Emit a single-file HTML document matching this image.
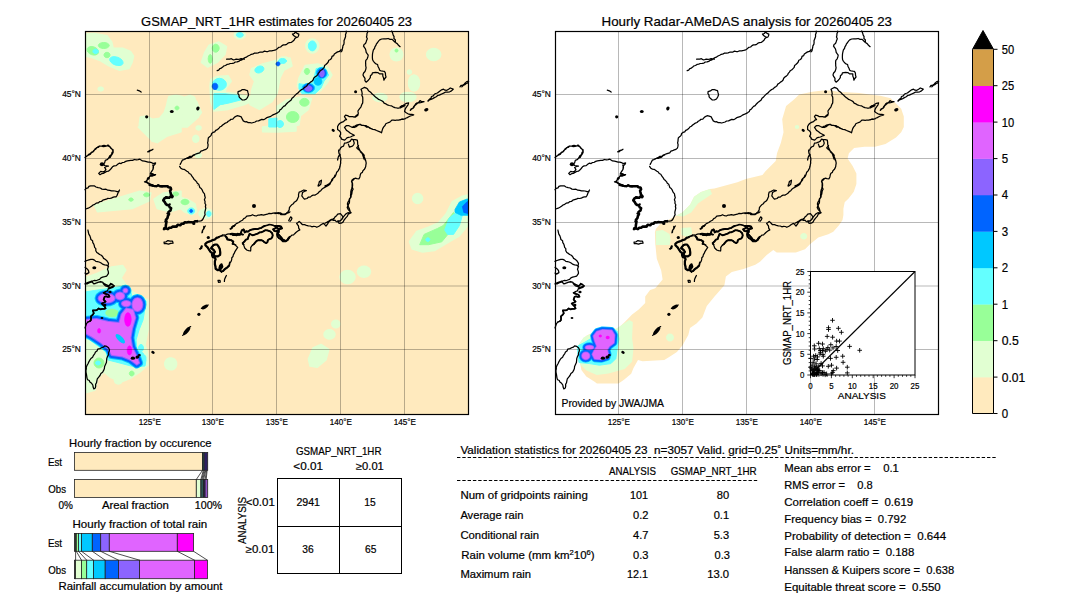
<!DOCTYPE html>
<html><head><meta charset="utf-8"><style>
html,body{margin:0;padding:0;background:#fff;width:1080px;height:612px;overflow:hidden;position:relative}
text{font-family:"Liberation Sans", sans-serif; stroke:#000; stroke-width:0.2px}
</style></head><body>
<svg width="1080" height="612" viewBox="0 0 1080 612" style="position:absolute;left:0;top:0" font-family='"Liberation Sans", sans-serif' fill="#000">
<rect width="1080" height="612" fill="#fff"/>
<text x="276.6" y="26.0" font-size="13.0" text-anchor="middle" textLength="271.0" lengthAdjust="spacingAndGlyphs">GSMAP_NRT_1HR estimates for 20260405 23</text>
<text x="746.8" y="26.0" font-size="13.0" text-anchor="middle" textLength="290.5" lengthAdjust="spacingAndGlyphs">Hourly Radar-AMeDAS analysis for 20260405 23</text>
<g>
<rect x="85.5" y="31.5" width="383.0" height="383.0" fill="#FFEABE"/>
<clipPath id="clip0"><rect x="85.5" y="31.5" width="383.0" height="383.0"/></clipPath>
<g clip-path="url(#clip0)">
<path d="M85.0,34.1 L94.4,33.4 L107.0,35.7 L111.7,42.0 L113.2,48.3 L122.6,48.3 L130.5,51.4 L133.6,56.1 L132.1,62.4 L128.9,68.6 L119.5,70.2 L108.5,65.5 L100.7,60.8 L92.8,57.7 L85.0,56.1Z M168.9,96.4 L175.8,95.3 L182.6,96.4 L184.9,102.2 L181.5,107.9 L181.5,114.7 L182.6,121.6 L180.3,128.5 L175.8,133.1 L166.6,135.3 L159.7,137.6 L156.3,142.2 L151.7,141.1 L149.5,134.2 L142.6,130.8 L139.2,125.0 L140.3,117.0 L146.0,115.9 L152.9,119.3 L159.7,118.2 L164.3,112.5 L166.6,105.6 L167.8,99.9Z M195.1,99.3 L194.8,100.6 L193.8,101.8 L192.3,102.5 L190.6,102.8 L188.9,102.5 L187.4,101.8 L186.4,100.6 L186.1,99.3 L186.4,98.0 L187.4,96.8 L188.9,96.1 L190.6,95.8 L192.3,96.1 L193.8,96.8 L194.8,98.0Z M198.8,115.9 L198.6,116.9 L197.9,117.7 L196.9,118.2 L195.8,118.4 L194.7,118.2 L193.7,117.7 L193.0,116.9 L192.8,115.9 L193.0,114.9 L193.7,114.1 L194.7,113.6 L195.8,113.4 L196.9,113.6 L197.9,114.1 L198.6,114.9Z M201.1,127.9 L200.9,128.7 L200.4,129.3 L199.6,129.7 L198.6,129.9 L197.6,129.7 L196.8,129.3 L196.3,128.7 L196.1,127.9 L196.3,127.1 L196.8,126.5 L197.6,126.1 L198.6,125.9 L199.6,126.1 L200.4,126.5 L200.9,127.1Z M198.8,138.8 L198.6,140.1 L197.9,141.3 L196.9,142.0 L195.8,142.3 L194.7,142.0 L193.7,141.3 L193.0,140.1 L192.8,138.8 L193.0,137.5 L193.7,136.3 L194.7,135.6 L195.8,135.3 L196.9,135.6 L197.9,136.3 L198.6,137.5Z M103.2,89.0 L103.0,89.7 L102.5,90.3 L101.7,90.7 L100.7,90.8 L99.7,90.7 L98.9,90.3 L98.4,89.7 L98.2,89.0 L98.4,88.3 L98.9,87.7 L99.7,87.3 L100.7,87.2 L101.7,87.3 L102.5,87.7 L103.0,88.3Z M181.0,98.5 L190.4,95.3 L196.7,101.6 L201.4,112.6 L196.7,118.8 L187.3,127.0 L181.0,127.0Z M209.2,45.1 L218.6,42.0 L226.5,46.7 L224.9,54.5 L217.1,62.4 L207.7,67.1 L201.4,62.4 L204.5,53.0Z M245.3,34.9 L244.9,36.4 L243.7,37.7 L241.9,38.6 L239.8,38.9 L237.7,38.6 L235.9,37.7 L234.7,36.4 L234.3,34.9 L234.7,33.4 L235.9,32.1 L237.7,31.2 L239.8,30.9 L241.9,31.2 L243.7,32.1 L244.9,33.4Z M210.8,79.6 L217.1,76.5 L228.1,75.7 L231.2,81.2 L226.5,87.5 L224.9,92.2 L235.9,93.7 L250.0,96.9 L251.6,101.6 L243.7,104.7 L228.1,109.4 L213.9,111.0 L210.8,101.6 L210.0,85.9Z M251.6,68.6 L262.6,63.9 L275.1,60.8 L277.0,60.0 L290.0,58.0 L292.0,66.0 L284.0,70.0 L280.0,78.0 L277.0,93.7 L272.0,101.6 L259.4,109.4 L250.0,104.7 L251.6,90.6 L254.7,81.2 L250.0,74.9Z M318.8,45.9 L318.3,48.6 L316.9,50.8 L314.8,52.4 L312.3,52.9 L309.8,52.4 L307.7,50.8 L306.3,48.6 L305.8,45.9 L306.3,43.2 L307.7,41.0 L309.8,39.4 L312.3,38.9 L314.8,39.4 L316.9,41.0 L318.3,43.2Z M291.0,62.4 L290.5,64.5 L288.9,66.3 L286.7,67.5 L284.0,67.9 L281.3,67.5 L279.1,66.3 L277.5,64.5 L277.0,62.4 L277.5,60.3 L279.1,58.5 L281.3,57.3 L284.0,56.9 L286.7,57.3 L288.9,58.5 L290.5,60.3Z M299.0,78.0 L305.2,65.5 L317.8,64.0 L327.2,67.0 L331.9,75.0 L327.2,82.8 L320.9,90.6 L314.6,93.7 L302.0,93.7 L297.4,86.0Z M277.0,106.3 L286.4,100.0 L300.5,96.9 L311.5,98.5 L308.4,109.4 L300.5,115.7 L299.0,125.0 L286.4,127.0 L277.0,127.0Z M262.6,127.0 L277.0,125.0 L296.0,126.0 L296.0,131.0 L277.0,132.0 L262.6,131.7Z M402.8,54.5 L402.3,56.9 L401.0,59.0 L398.9,60.3 L396.5,60.8 L394.1,60.3 L392.0,59.0 L390.7,56.9 L390.2,54.5 L390.7,52.1 L392.0,50.0 L394.1,48.7 L396.5,48.2 L398.9,48.7 L401.0,50.0 L402.3,52.1Z M440.7,54.5 L440.2,56.8 L438.6,58.7 L436.4,60.0 L433.7,60.5 L431.0,60.0 L428.8,58.7 L427.2,56.8 L426.7,54.5 L427.2,52.2 L428.8,50.3 L431.0,49.0 L433.7,48.5 L436.4,49.0 L438.6,50.3 L440.2,52.2Z M411.4,72.1 L411.2,72.9 L410.8,73.5 L410.2,73.9 L409.4,74.1 L408.6,73.9 L408.0,73.5 L407.6,72.9 L407.4,72.1 L407.6,71.3 L408.0,70.7 L408.6,70.3 L409.4,70.1 L410.2,70.3 L410.8,70.7 L411.2,71.3Z M419.5,83.0 L419.1,86.1 L417.9,88.7 L416.1,90.4 L414.0,91.0 L411.9,90.4 L410.1,88.7 L408.9,86.1 L408.5,83.0 L408.9,79.9 L410.1,77.3 L411.9,75.6 L414.0,75.0 L416.1,75.6 L417.9,77.3 L419.1,79.9Z M416.0,97.0 L415.4,98.7 L413.7,100.2 L411.1,101.2 L408.0,101.5 L404.9,101.2 L402.3,100.2 L400.6,98.7 L400.0,97.0 L400.6,95.3 L402.3,93.8 L404.9,92.8 L408.0,92.5 L411.1,92.8 L413.7,93.8 L415.4,95.3Z M387.0,97.5 L386.5,99.0 L384.9,100.3 L382.7,101.2 L380.0,101.5 L377.3,101.2 L375.1,100.3 L373.5,99.0 L373.0,97.5 L373.5,96.0 L375.1,94.7 L377.3,93.8 L380.0,93.5 L382.7,93.8 L384.9,94.7 L386.5,96.0Z M138.3,127.0 L181.0,127.0 L181.0,131.7 L166.6,136.4 L157.2,142.7 L150.9,139.5 L141.5,130.1Z M94.4,205.4 L108.5,200.7 L124.2,196.0 L139.9,191.3 L150.9,192.9 L149.3,200.7 L132.1,208.6 L116.4,210.1 L97.5,211.7Z M154.0,199.2 L163.4,192.9 L181.0,191.3 L181.0,208.6 L169.7,211.7 L157.2,208.6Z M198.2,139.0 L198.0,140.2 L197.4,141.2 L196.5,141.9 L195.5,142.1 L194.5,141.9 L193.6,141.2 L193.0,140.2 L192.8,139.0 L193.0,137.8 L193.6,136.8 L194.5,136.1 L195.5,135.9 L196.5,136.1 L197.4,136.8 L198.0,137.8Z M201.3,155.2 L201.1,156.1 L200.4,156.9 L199.4,157.4 L198.3,157.6 L197.2,157.4 L196.2,156.9 L195.5,156.1 L195.3,155.2 L195.5,154.3 L196.2,153.5 L197.2,153.0 L198.3,152.8 L199.4,153.0 L200.4,153.5 L201.1,154.3Z M181.0,197.6 L187.3,199.2 L195.1,203.9 L196.7,211.7 L192.0,214.8 L184.1,211.7 L181.0,208.6Z M213.0,213.5 L212.5,215.3 L210.9,216.8 L208.7,217.8 L206.0,218.2 L203.3,217.8 L201.1,216.8 L199.5,215.3 L199.0,213.5 L199.5,211.7 L201.1,210.2 L203.3,209.2 L206.0,208.8 L208.7,209.2 L210.9,210.2 L212.5,211.7Z M422.6,198.5 L422.2,200.4 L421.1,202.0 L419.5,203.1 L417.6,203.5 L415.7,203.1 L414.1,202.0 L413.0,200.4 L412.6,198.5 L413.0,196.6 L414.1,195.0 L415.7,193.9 L417.6,193.5 L419.5,193.9 L421.1,195.0 L422.2,196.6Z M409.4,241.8 L416.8,231.5 L428.5,227.1 L438.8,222.6 L446.2,213.8 L452.1,202.0 L462.4,196.2 L469.0,194.7 L469.0,224.1 L459.4,235.9 L449.1,241.8 L434.4,250.6 L422.6,252.1 L412.4,249.1Z M355.0,277.0 L354.4,279.5 L352.8,281.6 L350.4,283.0 L347.5,283.5 L344.6,283.0 L342.2,281.6 L340.6,279.5 L340.0,277.0 L340.6,274.5 L342.2,272.4 L344.6,271.0 L347.5,270.5 L350.4,271.0 L352.8,272.4 L354.4,274.5Z M370.5,271.7 L370.0,273.8 L368.6,275.6 L366.5,276.8 L364.0,277.2 L361.5,276.8 L359.4,275.6 L358.0,273.8 L357.5,271.7 L358.0,269.6 L359.4,267.8 L361.5,266.6 L364.0,266.2 L366.5,266.6 L368.6,267.8 L370.0,269.6Z M339.8,324.0 L339.5,325.5 L338.6,326.7 L337.3,327.5 L335.8,327.8 L334.3,327.5 L333.0,326.7 L332.1,325.5 L331.8,324.0 L332.1,322.5 L333.0,321.3 L334.3,320.5 L335.8,320.2 L337.3,320.5 L338.6,321.3 L339.5,322.5Z M335.0,334.4 L334.6,336.2 L333.4,337.7 L331.6,338.7 L329.5,339.1 L327.4,338.7 L325.6,337.7 L324.4,336.2 L324.0,334.4 L324.4,332.6 L325.6,331.1 L327.4,330.1 L329.5,329.7 L331.6,330.1 L333.4,331.1 L334.6,332.6Z M308.4,359.0 L313.0,348.0 L321.0,344.5 L328.8,349.5 L326.0,360.0 L317.0,367.3 L310.0,366.0Z M85.0,277.9 L97.5,273.2 L111.7,266.9 L122.6,265.4 L125.8,270.1 L121.1,277.9 L125.8,284.2 L130.5,290.5 L139.9,296.0 L148.0,300.0 L148.0,330.0 L145.0,345.0 L147.5,352.5 L148.0,365.0 L140.0,372.0 L131.0,378.0 L121.0,382.0 L110.0,377.0 L104.0,372.0 L98.0,378.0 L95.0,390.0 L85.0,393.0Z M122.2,380.0 L121.9,381.5 L121.1,382.8 L119.8,383.6 L118.3,383.9 L116.8,383.6 L115.5,382.8 L114.7,381.5 L114.4,380.0 L114.7,378.5 L115.5,377.2 L116.8,376.4 L118.3,376.1 L119.8,376.4 L121.1,377.2 L121.9,378.5Z M175.9,366.9 L174.4,368.7 L172.3,369.7 L169.9,369.8 L167.7,369.1 L165.9,367.6 L164.9,365.5 L164.8,363.1 L165.5,360.9 L167.0,359.1 L169.1,358.1 L171.5,358.0 L173.7,358.7 L175.5,360.2 L176.5,362.3 L176.6,364.7Z" fill="#E1FFD2" stroke="#E1FFD2" stroke-width="1.5" stroke-linejoin="round"/>
<path d="M109.3,45.5 L108.9,46.6 L107.7,47.6 L105.9,48.3 L103.8,48.5 L101.7,48.3 L99.9,47.6 L98.7,46.6 L98.3,45.5 L98.7,44.4 L99.9,43.4 L101.7,42.7 L103.8,42.5 L105.9,42.7 L107.7,43.4 L108.9,44.4Z M98.4,52.9 L97.5,54.1 L95.8,54.9 L93.7,55.1 L91.4,54.6 L89.4,53.5 L87.8,52.0 L87.1,50.3 L87.2,48.7 L88.1,47.5 L89.8,46.7 L91.9,46.5 L94.2,47.0 L96.2,48.1 L97.8,49.6 L98.5,51.3Z M110.0,55.0 L109.8,56.0 L109.1,56.9 L108.1,57.5 L107.0,57.7 L105.9,57.5 L104.9,56.9 L104.2,56.0 L104.0,55.0 L104.2,54.0 L104.9,53.1 L105.9,52.5 L107.0,52.3 L108.1,52.5 L109.1,53.1 L109.8,54.0Z M179.0,108.0 L178.8,108.7 L178.4,109.3 L177.8,109.7 L177.0,109.8 L176.2,109.7 L175.6,109.3 L175.2,108.7 L175.0,108.0 L175.2,107.3 L175.6,106.7 L176.2,106.3 L177.0,106.2 L177.8,106.3 L178.4,106.7 L178.8,107.3Z M219.2,48.2 L218.9,49.7 L218.2,51.0 L217.0,51.9 L215.7,52.2 L214.4,51.9 L213.2,51.0 L212.5,49.7 L212.2,48.2 L212.5,46.7 L213.2,45.4 L214.4,44.5 L215.7,44.2 L217.0,44.5 L218.2,45.4 L218.9,46.7Z M212.2,58.9 L212.0,60.5 L211.6,61.9 L211.0,62.9 L210.2,63.2 L209.4,62.9 L208.8,61.9 L208.4,60.5 L208.2,58.9 L208.4,57.3 L208.8,55.9 L209.4,54.9 L210.2,54.6 L211.0,54.9 L211.6,55.9 L212.0,57.3Z M226.0,101.0 L225.7,102.1 L224.8,103.1 L223.5,103.8 L222.0,104.0 L220.5,103.8 L219.2,103.1 L218.3,102.1 L218.0,101.0 L218.3,99.9 L219.2,98.9 L220.5,98.2 L222.0,98.0 L223.5,98.2 L224.8,98.9 L225.7,99.9Z M309.7,71.4 L309.5,72.5 L308.9,73.5 L308.0,74.2 L307.0,74.4 L306.0,74.2 L305.1,73.5 L304.5,72.5 L304.3,71.4 L304.5,70.3 L305.1,69.3 L306.0,68.6 L307.0,68.4 L308.0,68.6 L308.9,69.3 L309.5,70.3Z M309.1,102.3 L308.7,103.8 L307.7,105.1 L306.2,105.9 L304.4,106.2 L302.6,105.9 L301.1,105.1 L300.1,103.8 L299.7,102.3 L300.1,100.8 L301.1,99.5 L302.6,98.7 L304.4,98.4 L306.2,98.7 L307.7,99.5 L308.7,100.8Z M299.0,117.0 L298.5,119.1 L297.2,120.9 L295.1,122.1 L292.7,122.5 L290.3,122.1 L288.2,120.9 L286.9,119.1 L286.4,117.0 L286.9,114.9 L288.2,113.1 L290.3,111.9 L292.7,111.5 L295.1,111.9 L297.2,113.1 L298.5,114.9Z M398.0,50.6 L397.9,51.2 L397.6,51.7 L397.1,52.0 L396.5,52.1 L395.9,52.0 L395.4,51.7 L395.1,51.2 L395.0,50.6 L395.1,50.0 L395.4,49.5 L395.9,49.2 L396.5,49.1 L397.1,49.2 L397.6,49.5 L397.9,50.0Z M149.6,194.8 L149.4,195.6 L148.7,196.2 L147.7,196.6 L146.6,196.8 L145.5,196.6 L144.5,196.2 L143.8,195.6 L143.6,194.8 L143.8,194.0 L144.5,193.4 L145.5,193.0 L146.6,192.8 L147.7,193.0 L148.7,193.4 L149.4,194.0Z M133.3,199.6 L133.1,200.2 L132.6,200.7 L131.9,201.1 L131.0,201.2 L130.1,201.1 L129.4,200.7 L128.9,200.2 L128.7,199.6 L128.9,199.0 L129.4,198.5 L130.1,198.1 L131.0,198.0 L131.9,198.1 L132.6,198.5 L133.1,199.0Z M178.8,194.0 L178.6,194.8 L177.9,195.4 L176.9,195.8 L175.8,196.0 L174.7,195.8 L173.7,195.4 L173.0,194.8 L172.8,194.0 L173.0,193.2 L173.7,192.6 L174.7,192.2 L175.8,192.0 L176.9,192.2 L177.9,192.6 L178.6,193.2Z M189.0,202.0 L188.7,203.0 L187.8,203.9 L186.5,204.5 L185.0,204.7 L183.5,204.5 L182.2,203.9 L181.3,203.0 L181.0,202.0 L181.3,201.0 L182.2,200.1 L183.5,199.5 L185.0,199.3 L186.5,199.5 L187.8,200.1 L188.7,201.0Z M419.7,244.7 L424.1,234.4 L437.4,228.5 L443.2,225.6 L449.1,218.2 L453.5,212.4 L456.5,215.3 L449.1,232.9 L441.8,241.8 L428.5,244.7Z M134.1,373.5 L133.9,374.4 L133.4,375.2 L132.6,375.7 L131.7,375.9 L130.8,375.7 L130.0,375.2 L129.5,374.4 L129.3,373.5 L129.5,372.6 L130.0,371.8 L130.8,371.3 L131.7,371.1 L132.6,371.3 L133.4,371.8 L133.9,372.6Z M104.0,363.0 L103.6,364.9 L102.5,366.5 L100.9,367.6 L99.0,368.0 L97.1,367.6 L95.5,366.5 L94.4,364.9 L94.0,363.0 L94.4,361.1 L95.5,359.5 L97.1,358.4 L99.0,358.0 L100.9,358.4 L102.5,359.5 L103.6,361.1Z M119.0,313.0 L118.5,314.5 L116.9,315.8 L114.7,316.7 L112.0,317.0 L109.3,316.7 L107.1,315.8 L105.5,314.5 L105.0,313.0 L105.5,311.5 L107.1,310.2 L109.3,309.3 L112.0,309.0 L114.7,309.3 L116.9,310.2 L118.5,311.5Z M117.0,316.0 L116.5,317.5 L115.2,318.8 L113.1,319.7 L110.7,320.0 L108.3,319.7 L106.2,318.8 L104.9,317.5 L104.4,316.0 L104.9,314.5 L106.2,313.2 L108.3,312.3 L110.7,312.0 L113.1,312.3 L115.2,313.2 L116.5,314.5Z" fill="#98FF98" stroke="#98FF98" stroke-width="1.0" stroke-linejoin="round"/>
<path d="M123.0,63.5 L122.0,64.8 L120.1,65.5 L117.7,65.5 L115.0,64.9 L112.6,63.7 L110.8,62.1 L109.8,60.3 L109.8,58.7 L110.8,57.4 L112.7,56.7 L115.1,56.7 L117.8,57.3 L120.2,58.5 L122.0,60.1 L123.0,61.9Z M98.3,51.4 L98.1,52.3 L97.5,53.0 L96.6,53.5 L95.6,53.7 L94.6,53.5 L93.7,53.0 L93.1,52.3 L92.9,51.4 L93.1,50.5 L93.7,49.8 L94.6,49.3 L95.6,49.1 L96.6,49.3 L97.5,49.8 L98.1,50.5Z M243.3,34.9 L243.0,35.8 L242.3,36.6 L241.1,37.1 L239.8,37.3 L238.5,37.1 L237.3,36.6 L236.6,35.8 L236.3,34.9 L236.6,34.0 L237.3,33.2 L238.5,32.7 L239.8,32.5 L241.1,32.7 L242.3,33.2 L243.0,34.0Z M316.3,45.9 L316.0,47.8 L315.1,49.4 L313.8,50.5 L312.3,50.9 L310.8,50.5 L309.5,49.4 L308.6,47.8 L308.3,45.9 L308.6,44.0 L309.5,42.4 L310.8,41.3 L312.3,40.9 L313.8,41.3 L315.1,42.4 L316.0,44.0Z M286.5,61.0 L286.2,62.0 L285.3,62.8 L284.0,63.3 L282.5,63.5 L281.0,63.3 L279.7,62.8 L278.8,62.0 L278.5,61.0 L278.8,60.0 L279.7,59.2 L281.0,58.7 L282.5,58.5 L284.0,58.7 L285.3,59.2 L286.2,60.0Z M213.9,93.7 L224.9,93.7 L237.5,95.3 L240.6,100.0 L228.1,103.2 L220.2,104.7 L213.9,109.4Z M226.4,84.3 L225.9,86.6 L224.3,88.5 L222.1,89.8 L219.4,90.3 L216.7,89.8 L214.5,88.5 L212.9,86.6 L212.4,84.3 L212.9,82.0 L214.5,80.1 L216.7,78.8 L219.4,78.3 L222.1,78.8 L224.3,80.1 L225.9,82.0Z M263.8,67.9 L263.9,69.2 L263.3,70.6 L262.1,71.7 L260.5,72.6 L258.8,73.0 L257.1,72.8 L255.8,72.2 L255.0,71.1 L254.9,69.8 L255.5,68.4 L256.7,67.3 L258.3,66.4 L260.0,66.0 L261.7,66.2 L263.0,66.8Z M268.8,118.8 L277.0,118.0 L277.0,127.0 L268.8,127.0Z M283.5,124.0 L283.2,125.3 L282.5,126.5 L281.3,127.2 L280.0,127.5 L278.7,127.2 L277.5,126.5 L276.8,125.3 L276.5,124.0 L276.8,122.7 L277.5,121.5 L278.7,120.8 L280.0,120.5 L281.3,120.8 L282.5,121.5 L283.2,122.7Z M194.7,211.0 L194.4,212.1 L193.7,213.1 L192.5,213.8 L191.2,214.0 L189.9,213.8 L188.7,213.1 L188.0,212.1 L187.7,211.0 L188.0,209.9 L188.7,208.9 L189.9,208.2 L191.2,208.0 L192.5,208.2 L193.7,208.9 L194.4,209.9Z M211.1,213.8 L210.9,214.8 L210.4,215.7 L209.7,216.3 L208.8,216.5 L207.9,216.3 L207.2,215.7 L206.7,214.8 L206.5,213.8 L206.7,212.8 L207.2,211.9 L207.9,211.3 L208.8,211.1 L209.7,211.3 L210.4,211.9 L210.9,212.8Z M299.0,83.7 L308.4,85.2 L313.0,82.0 L316.2,68.6 L323.3,67.0 L328.8,75.0 L324.0,81.2 L321.0,88.0 L315.0,93.7 L302.0,93.7 L299.0,88.9Z M444.7,230.0 L449.1,218.2 L456.5,212.4 L462.4,215.3 L459.4,225.6 L453.5,234.4 L447.6,234.4Z M429.8,239.6 L429.6,240.3 L429.2,240.9 L428.6,241.3 L427.8,241.4 L427.0,241.3 L426.4,240.9 L426.0,240.3 L425.8,239.6 L426.0,238.9 L426.4,238.3 L427.0,237.9 L427.8,237.8 L428.6,237.9 L429.2,238.3 L429.6,238.9Z M85.0,292.0 L94.4,290.5 L105.4,288.9 L116.4,287.3 L124.2,285.7 L130.5,290.5 L132.1,296.7 L139.9,298.3 L146.2,301.4 L144.6,310.8 L143.0,320.0 L139.0,330.0 L136.0,340.0 L137.0,350.0 L143.0,353.0 L146.0,360.0 L145.0,366.0 L139.0,366.5 L131.0,366.0 L116.0,362.0 L108.0,360.0 L106.0,352.0 L98.0,346.0 L90.0,340.0 L85.0,338.0Z M143.5,348.0 L143.3,349.3 L142.8,350.5 L142.0,351.2 L141.0,351.5 L140.0,351.2 L139.2,350.5 L138.7,349.3 L138.5,348.0 L138.7,346.7 L139.2,345.5 L140.0,344.8 L141.0,344.5 L142.0,344.8 L142.8,345.5 L143.3,346.7Z M146.0,358.0 L145.8,359.1 L145.4,360.1 L144.8,360.8 L144.0,361.0 L143.2,360.8 L142.6,360.1 L142.2,359.1 L142.0,358.0 L142.2,356.9 L142.6,355.9 L143.2,355.2 L144.0,355.0 L144.8,355.2 L145.4,355.9 L145.8,356.9Z M100.5,363.0 L100.3,363.8 L99.8,364.4 L99.0,364.8 L98.0,365.0 L97.0,364.8 L96.2,364.4 L95.7,363.8 L95.5,363.0 L95.7,362.2 L96.2,361.6 L97.0,361.2 L98.0,361.0 L99.0,361.2 L99.8,361.6 L100.3,362.2Z" fill="#64FFFF" stroke="#64FFFF" stroke-width="1.0" stroke-linejoin="round"/>
<path d="M118.5,313.0 L118.0,314.5 L116.6,315.8 L114.5,316.7 L112.0,317.0 L109.5,316.7 L107.4,315.8 L106.0,314.5 L105.5,313.0 L106.0,311.5 L107.4,310.2 L109.5,309.3 L112.0,309.0 L114.5,309.3 L116.6,310.2 L118.0,311.5Z" fill="#98FF98" stroke="#98FF98" stroke-width="0.5" stroke-linejoin="round"/>
<path d="M314.7,88.0 L314.2,89.8 L312.9,91.3 L310.8,92.3 L308.4,92.7 L306.0,92.3 L303.9,91.3 L302.6,89.8 L302.1,88.0 L302.6,86.2 L303.9,84.7 L306.0,83.7 L308.4,83.3 L310.8,83.7 L312.9,84.7 L314.2,86.2Z M327.2,73.0 L326.8,75.1 L325.6,76.9 L323.8,78.1 L321.7,78.5 L319.6,78.1 L317.8,76.9 L316.6,75.1 L316.2,73.0 L316.6,70.9 L317.8,69.1 L319.6,67.9 L321.7,67.5 L323.8,67.9 L325.6,69.1 L326.8,70.9Z M321.9,81.4 L321.6,82.9 L320.8,84.2 L319.5,85.0 L318.0,85.3 L316.5,85.0 L315.2,84.2 L314.4,82.9 L314.1,81.4 L314.4,79.9 L315.2,78.6 L316.5,77.8 L318.0,77.5 L319.5,77.8 L320.8,78.6 L321.6,79.9Z M455.0,209.4 L459.4,202.0 L466.8,199.1 L469.0,199.0 L469.0,215.3 L460.9,215.3 L455.0,212.4Z" fill="#00C8FF" stroke="#00C8FF" stroke-width="0.8" stroke-linejoin="round"/>
<path d="M217.8,86.4 L217.6,87.6 L217.0,88.7 L216.1,89.4 L215.0,89.6 L213.9,89.4 L213.0,88.7 L212.4,87.6 L212.2,86.4 L212.4,85.2 L213.0,84.1 L213.9,83.4 L215.0,83.2 L216.1,83.4 L217.0,84.1 L217.6,85.2Z M280.0,63.9 L279.8,64.7 L279.4,65.3 L278.8,65.7 L278.0,65.9 L277.2,65.7 L276.6,65.3 L276.2,64.7 L276.0,63.9 L276.2,63.1 L276.6,62.5 L277.2,62.1 L278.0,61.9 L278.8,62.1 L279.4,62.5 L279.8,63.1Z M313.4,88.0 L313.0,89.5 L311.9,90.7 L310.3,91.5 L308.4,91.8 L306.5,91.5 L304.9,90.7 L303.8,89.5 L303.4,88.0 L303.8,86.5 L304.9,85.3 L306.5,84.5 L308.4,84.2 L310.3,84.5 L311.9,85.3 L313.0,86.5Z M326.0,73.2 L325.7,74.9 L324.8,76.4 L323.4,77.4 L321.8,77.7 L320.2,77.4 L318.8,76.4 L317.9,74.9 L317.6,73.2 L317.9,71.5 L318.8,70.0 L320.2,69.0 L321.8,68.7 L323.4,69.0 L324.8,70.0 L325.7,71.5Z M462.4,206.5 L466.8,202.0 L469.0,201.0 L469.0,213.8 L463.8,212.4Z M192.7,211.0 L192.6,211.6 L192.3,212.1 L191.8,212.4 L191.2,212.5 L190.6,212.4 L190.1,212.1 L189.8,211.6 L189.7,211.0 L189.8,210.4 L190.1,209.9 L190.6,209.6 L191.2,209.5 L191.8,209.6 L192.3,209.9 L192.6,210.4Z" fill="#0064FF" stroke="#0064FF" stroke-width="0.8" stroke-linejoin="round"/>
<path d="M312.3,88.5 L312.0,89.6 L311.2,90.6 L309.9,91.3 L308.4,91.5 L306.9,91.3 L305.6,90.6 L304.8,89.6 L304.5,88.5 L304.8,87.4 L305.6,86.4 L306.9,85.7 L308.4,85.5 L309.9,85.7 L311.2,86.4 L312.0,87.4Z M324.6,73.3 L324.4,74.8 L323.8,76.1 L322.9,76.9 L321.9,77.2 L320.9,76.9 L320.0,76.1 L319.4,74.8 L319.2,73.3 L319.4,71.8 L320.0,70.5 L320.9,69.7 L321.9,69.4 L322.9,69.7 L323.8,70.5 L324.4,71.8Z" fill="#8C64FF" stroke="#8C64FF" stroke-width="0.3" stroke-linejoin="round"/>
<path d="M114.6,298.3 L114.0,299.9 L112.3,301.3 L109.7,302.3 L106.6,302.6 L103.5,302.3 L100.9,301.3 L99.2,299.9 L98.6,298.3 L99.2,296.7 L100.9,295.3 L103.5,294.3 L106.6,294.0 L109.7,294.3 L112.3,295.3 L114.0,296.7Z M124.2,296.0 L123.9,297.3 L123.0,298.4 L121.6,299.1 L120.0,299.4 L118.4,299.1 L117.0,298.4 L116.1,297.3 L115.8,296.0 L116.1,294.7 L117.0,293.6 L118.4,292.9 L120.0,292.6 L121.6,292.9 L123.0,293.6 L123.9,294.7Z M127.4,290.6 L127.2,291.3 L126.8,291.9 L126.2,292.3 L125.4,292.4 L124.6,292.3 L124.0,291.9 L123.6,291.3 L123.4,290.6 L123.6,289.9 L124.0,289.3 L124.6,288.9 L125.4,288.8 L126.2,288.9 L126.8,289.3 L127.2,289.9Z M130.4,303.6 L130.1,304.6 L129.2,305.4 L127.8,306.0 L126.2,306.2 L124.6,306.0 L123.2,305.4 L122.3,304.6 L122.0,303.6 L122.3,302.6 L123.2,301.8 L124.6,301.2 L126.2,301.0 L127.8,301.2 L129.2,301.8 L130.1,302.6Z M142.4,304.6 L142.0,307.1 L140.9,309.2 L139.3,310.6 L137.4,311.1 L135.5,310.6 L133.9,309.2 L132.8,307.1 L132.4,304.6 L132.8,302.1 L133.9,300.0 L135.5,298.6 L137.4,298.1 L139.3,298.6 L140.9,300.0 L142.0,302.1Z M85.0,320.0 L96.4,318.9 L107.9,321.7 L119.3,322.9 L121.6,314.3 L126.2,308.6 L133.0,309.7 L135.3,317.7 L132.1,328.4 L130.5,337.8 L132.1,347.2 L136.8,356.6 L139.1,362.9 L136.8,364.5 L130.5,359.8 L122.6,356.6 L111.7,355.1 L108.5,348.8 L100.7,342.5 L91.3,336.3 L85.0,333.1Z" fill="#00C8FF" stroke="#00C8FF" stroke-width="8.0" stroke-linejoin="round"/>
<path d="M114.6,298.3 L114.0,299.9 L112.3,301.3 L109.7,302.3 L106.6,302.6 L103.5,302.3 L100.9,301.3 L99.2,299.9 L98.6,298.3 L99.2,296.7 L100.9,295.3 L103.5,294.3 L106.6,294.0 L109.7,294.3 L112.3,295.3 L114.0,296.7Z M124.2,296.0 L123.9,297.3 L123.0,298.4 L121.6,299.1 L120.0,299.4 L118.4,299.1 L117.0,298.4 L116.1,297.3 L115.8,296.0 L116.1,294.7 L117.0,293.6 L118.4,292.9 L120.0,292.6 L121.6,292.9 L123.0,293.6 L123.9,294.7Z M127.4,290.6 L127.2,291.3 L126.8,291.9 L126.2,292.3 L125.4,292.4 L124.6,292.3 L124.0,291.9 L123.6,291.3 L123.4,290.6 L123.6,289.9 L124.0,289.3 L124.6,288.9 L125.4,288.8 L126.2,288.9 L126.8,289.3 L127.2,289.9Z M130.4,303.6 L130.1,304.6 L129.2,305.4 L127.8,306.0 L126.2,306.2 L124.6,306.0 L123.2,305.4 L122.3,304.6 L122.0,303.6 L122.3,302.6 L123.2,301.8 L124.6,301.2 L126.2,301.0 L127.8,301.2 L129.2,301.8 L130.1,302.6Z M142.4,304.6 L142.0,307.1 L140.9,309.2 L139.3,310.6 L137.4,311.1 L135.5,310.6 L133.9,309.2 L132.8,307.1 L132.4,304.6 L132.8,302.1 L133.9,300.0 L135.5,298.6 L137.4,298.1 L139.3,298.6 L140.9,300.0 L142.0,302.1Z M85.0,320.0 L96.4,318.9 L107.9,321.7 L119.3,322.9 L121.6,314.3 L126.2,308.6 L133.0,309.7 L135.3,317.7 L132.1,328.4 L130.5,337.8 L132.1,347.2 L136.8,356.6 L139.1,362.9 L136.8,364.5 L130.5,359.8 L122.6,356.6 L111.7,355.1 L108.5,348.8 L100.7,342.5 L91.3,336.3 L85.0,333.1Z" fill="#0064FF" stroke="#0064FF" stroke-width="6.0" stroke-linejoin="round"/>
<path d="M114.6,298.3 L114.0,299.9 L112.3,301.3 L109.7,302.3 L106.6,302.6 L103.5,302.3 L100.9,301.3 L99.2,299.9 L98.6,298.3 L99.2,296.7 L100.9,295.3 L103.5,294.3 L106.6,294.0 L109.7,294.3 L112.3,295.3 L114.0,296.7Z M124.2,296.0 L123.9,297.3 L123.0,298.4 L121.6,299.1 L120.0,299.4 L118.4,299.1 L117.0,298.4 L116.1,297.3 L115.8,296.0 L116.1,294.7 L117.0,293.6 L118.4,292.9 L120.0,292.6 L121.6,292.9 L123.0,293.6 L123.9,294.7Z M127.4,290.6 L127.2,291.3 L126.8,291.9 L126.2,292.3 L125.4,292.4 L124.6,292.3 L124.0,291.9 L123.6,291.3 L123.4,290.6 L123.6,289.9 L124.0,289.3 L124.6,288.9 L125.4,288.8 L126.2,288.9 L126.8,289.3 L127.2,289.9Z M130.4,303.6 L130.1,304.6 L129.2,305.4 L127.8,306.0 L126.2,306.2 L124.6,306.0 L123.2,305.4 L122.3,304.6 L122.0,303.6 L122.3,302.6 L123.2,301.8 L124.6,301.2 L126.2,301.0 L127.8,301.2 L129.2,301.8 L130.1,302.6Z M142.4,304.6 L142.0,307.1 L140.9,309.2 L139.3,310.6 L137.4,311.1 L135.5,310.6 L133.9,309.2 L132.8,307.1 L132.4,304.6 L132.8,302.1 L133.9,300.0 L135.5,298.6 L137.4,298.1 L139.3,298.6 L140.9,300.0 L142.0,302.1Z M85.0,320.0 L96.4,318.9 L107.9,321.7 L119.3,322.9 L121.6,314.3 L126.2,308.6 L133.0,309.7 L135.3,317.7 L132.1,328.4 L130.5,337.8 L132.1,347.2 L136.8,356.6 L139.1,362.9 L136.8,364.5 L130.5,359.8 L122.6,356.6 L111.7,355.1 L108.5,348.8 L100.7,342.5 L91.3,336.3 L85.0,333.1Z" fill="#8C64FF" stroke="#8C64FF" stroke-width="2.0" stroke-linejoin="round"/>
<path d="M114.6,298.3 L114.0,299.9 L112.3,301.3 L109.7,302.3 L106.6,302.6 L103.5,302.3 L100.9,301.3 L99.2,299.9 L98.6,298.3 L99.2,296.7 L100.9,295.3 L103.5,294.3 L106.6,294.0 L109.7,294.3 L112.3,295.3 L114.0,296.7Z M124.2,296.0 L123.9,297.3 L123.0,298.4 L121.6,299.1 L120.0,299.4 L118.4,299.1 L117.0,298.4 L116.1,297.3 L115.8,296.0 L116.1,294.7 L117.0,293.6 L118.4,292.9 L120.0,292.6 L121.6,292.9 L123.0,293.6 L123.9,294.7Z M127.4,290.6 L127.2,291.3 L126.8,291.9 L126.2,292.3 L125.4,292.4 L124.6,292.3 L124.0,291.9 L123.6,291.3 L123.4,290.6 L123.6,289.9 L124.0,289.3 L124.6,288.9 L125.4,288.8 L126.2,288.9 L126.8,289.3 L127.2,289.9Z M130.4,303.6 L130.1,304.6 L129.2,305.4 L127.8,306.0 L126.2,306.2 L124.6,306.0 L123.2,305.4 L122.3,304.6 L122.0,303.6 L122.3,302.6 L123.2,301.8 L124.6,301.2 L126.2,301.0 L127.8,301.2 L129.2,301.8 L130.1,302.6Z M142.4,304.6 L142.0,307.1 L140.9,309.2 L139.3,310.6 L137.4,311.1 L135.5,310.6 L133.9,309.2 L132.8,307.1 L132.4,304.6 L132.8,302.1 L133.9,300.0 L135.5,298.6 L137.4,298.1 L139.3,298.6 L140.9,300.0 L142.0,302.1Z M85.0,320.0 L96.4,318.9 L107.9,321.7 L119.3,322.9 L121.6,314.3 L126.2,308.6 L133.0,309.7 L135.3,317.7 L132.1,328.4 L130.5,337.8 L132.1,347.2 L136.8,356.6 L139.1,362.9 L136.8,364.5 L130.5,359.8 L122.6,356.6 L111.7,355.1 L108.5,348.8 L100.7,342.5 L91.3,336.3 L85.0,333.1Z" fill="#E064FF"/>
<path d="M131.3,319.5 L131.0,322.1 L130.3,324.4 L129.2,325.9 L127.9,326.4 L126.6,325.9 L125.5,324.4 L124.8,322.1 L124.5,319.5 L124.8,316.9 L125.5,314.6 L126.6,313.1 L127.9,312.6 L129.2,313.1 L130.3,314.6 L131.0,316.9Z M100.7,330.8 L100.6,331.7 L100.2,332.5 L99.7,333.0 L99.1,333.2 L98.5,333.0 L98.0,332.5 L97.6,331.7 L97.5,330.8 L97.6,329.9 L98.0,329.1 L98.5,328.6 L99.1,328.4 L99.7,328.6 L100.2,329.1 L100.6,329.9Z M131.9,350.4 L131.7,352.2 L131.2,353.7 L130.4,354.7 L129.5,355.1 L128.6,354.7 L127.8,353.7 L127.3,352.2 L127.1,350.4 L127.3,348.6 L127.8,347.1 L128.6,346.1 L129.5,345.7 L130.4,346.1 L131.2,347.1 L131.7,348.6Z" fill="#FF00FF" stroke="#FF00FF" stroke-width="0.5" stroke-linejoin="round"/>
<path d="M124.2,342.7 L123.4,342.9 L122.1,342.5 L120.5,341.5 L119.0,340.1 L117.6,338.6 L116.6,337.0 L116.2,335.7 L116.4,334.9 L117.2,334.7 L118.5,335.1 L120.1,336.1 L121.6,337.5 L123.0,339.0 L124.0,340.6 L124.4,341.9Z" fill="#00C8FF" stroke="#00C8FF" stroke-width="1.2" stroke-linejoin="round"/>
</g>
<path d="M149.5,31.5 V414.5 M85.5,94.5 H468.5 M212.5,31.5 V414.5 M85.5,158.5 H468.5 M276.5,31.5 V414.5 M85.5,222.5 H468.5 M340.5,31.5 V414.5 M85.5,286.0 H468.5 M404.5,31.5 V414.5 M85.5,349.5 H468.5" stroke="#000" stroke-opacity="0.28" stroke-width="1" fill="none"/>
<path d="M86.3,156.4 L88.2,155.2 L90.2,154.4 L91.3,152.8 L93.0,151.9 L94.2,150.5 L95.1,148.9 L96.8,147.9 L98.1,146.6 L100.0,146.1 L102.0,145.9 L104.0,145.4 L105.9,145.9 L107.9,145.9 L109.8,146.8 L111.1,148.5 L113.1,149.8 L113.1,152.5 L112.2,154.1 L111.1,155.7 L110.2,157.4 L108.5,158.3 L107.1,159.7 L105.3,160.3 L104.6,162.9 L103.3,164.2 L104.6,165.5 L106.6,165.8 L108.5,166.2 L106.5,166.5 L104.6,167.5 L105.9,169.4 L104.6,171.4 L102.6,171.8 L100.7,171.4 L98.7,173.4 L100.0,174.7 L101.6,173.7 L103.3,173.4 L105.0,172.5 L106.6,171.4 L108.4,171.2 L109.8,170.1 L111.2,168.5 L112.5,166.8 L114.1,165.9 L116.2,165.6 L117.7,164.2 L119.2,163.2 L121.1,163.6 L122.5,162.5 L124.2,162.3 L125.7,161.4 L127.4,160.9 L129.1,160.6 L130.8,160.3 L132.6,160.4 L134.4,159.5 L136.3,159.8 L138.1,159.6 L139.9,159.2 L142.5,160.9 L144.5,161.1 L146.4,161.6 L148.1,162.1 L149.8,162.1 L151.5,162.6 L153.0,163.6 L155.6,162.9 L154.9,164.4 L153.6,165.5 L153.1,167.5 L153.0,169.4 L151.7,171.4 L150.4,173.4 L152.2,173.6 L153.8,174.3 L155.6,174.7 L153.9,174.9 L152.1,175.3 L150.4,175.3 L149.4,176.8 L149.1,178.6 L147.6,179.7 L146.4,181.2 L144.5,181.9 L146.2,182.3 L147.7,183.2 L149.0,184.2 L150.4,185.1 L152.3,185.5 L154.3,185.8 L156.4,186.1 L158.2,185.1 L160.0,186.2 L162.1,186.4 L165.0,185.8 M85.0,189.7 L86.2,188.4 L88.0,187.9 L88.9,186.4 L90.6,185.8 L92.4,185.9 L94.2,185.8 L96.0,187.0 L98.1,187.7 L100.2,188.0 L102.0,189.1 L104.0,189.4 L106.0,189.2 L107.8,190.2 L109.8,190.4 L111.5,190.9 L113.3,190.9 L115.1,191.0 L117.0,191.7 L119.0,191.7 M147.7,151.8 L149.4,150.7 L151.3,150.2 L153.0,149.2 M85.0,157.5 L86.3,156.6 L87.6,155.5 L88.7,154.4 L90.3,153.6 L91.3,152.3 L93.0,151.7 L94.0,150.2 L95.6,149.3 L96.6,147.7 L98.4,147.3 L99.6,146.0 L101.5,146.2 L103.3,146.6 L105.1,146.4 L107.0,146.0 L108.0,145.0 L109.7,146.4 L111.1,148.1 L112.3,149.6 L113.2,151.3 L112.0,152.5 L111.6,154.4 L110.1,155.4 L109.1,157.2 L108.0,159.0 M185.4,159.0 L186.8,158.0 L188.4,157.2 L189.9,156.4 L191.8,156.4 L193.1,155.1 L194.7,154.5 L196.3,153.9 L197.9,153.4 L199.7,152.8 L200.9,151.2 L202.6,150.7 L204.2,149.9 L206.0,149.4 L207.4,148.1 L207.9,146.4 L208.1,144.7 L207.6,142.9 L208.0,141.1 L208.1,139.4 L208.4,137.7 L209.9,136.6 L211.1,135.4 L211.6,133.5 L213.0,132.4 M137.3,90.2 L139.3,90.8 L141.1,92.1 M148.8,151.9 L150.4,150.6 L152.3,149.8 M152.8,165.0 L153.5,167.6 L152.8,169.7 L151.5,171.5 L150.2,174.2 L152.0,174.4 L153.7,174.7 L155.5,174.8 L153.8,175.5 L152.1,176.2 L150.2,176.1 L149.0,177.2 L147.6,178.1 L147.1,179.8 L146.3,181.3 L147.6,182.4 L148.9,183.3 L151.5,184.6 L154.2,185.9 L156.4,186.0 L158.1,184.6 L159.9,185.6 L162.0,185.9 L163.7,185.9 L165.5,186.1 L167.2,185.9 L168.3,187.2 L170.4,187.5 L171.1,189.2 L170.1,190.7 L170.5,192.5 L171.0,194.6 L172.5,196.4 L170.6,196.4 L169.2,197.7 L166.8,197.5 L164.6,198.3 L163.3,200.3 L164.8,202.1 L165.9,204.2 L167.3,205.1 L169.0,205.6 L169.7,207.4 L171.1,208.1 L170.5,210.5 L168.5,212.1 L169.0,214.1 L167.9,216.0 L167.4,218.2 L165.9,219.9 L166.5,221.6 L166.2,223.4 L165.9,225.1 L165.7,227.5 L164.0,229.1 L165.9,228.2 L167.9,229.1 L169.3,227.8 L171.1,227.7 L172.7,226.6 L174.6,226.6 L176.4,226.4 L177.7,224.8 L180.2,225.3 L181.6,223.8 L183.4,223.6 L184.9,222.3 L186.8,222.5 L188.5,222.1 L190.1,222.2 L191.7,222.3 L193.4,222.5 L195.1,221.2 L197.3,221.2 L199.1,221.1 L200.9,220.9 L202.5,219.9 L203.4,218.1 L204.2,216.4 L205.1,214.7 L204.8,213.0 L205.0,211.4 L205.4,209.8 L205.8,208.1 L205.4,206.5 L205.8,204.8 L204.9,203.3 L205.1,201.6 L204.4,199.7 L205.3,197.6 L204.7,195.7 L204.5,193.8 L203.1,192.2 L202.3,190.2 L201.2,188.5 L199.8,187.5 L199.3,185.9 L198.7,184.3 L197.3,183.3 L196.6,181.8 L195.5,180.6 L194.1,179.5 L193.4,178.1 L191.9,176.2 L190.8,174.2 L189.2,173.5 L188.3,172.0 L186.9,171.2 L185.5,170.2 L184.1,169.3 L182.4,169.1 L180.9,168.3 L179.6,166.3 M203.8,226.4 L203.7,228.5 L202.6,230.3 L202.5,232.3 M164.0,242.1 L166.1,241.8 L167.9,240.6 L170.1,241.2 L172.5,241.1 L173.1,243.2 L170.7,243.4 L168.5,244.2 L166.5,243.6 L164.3,243.7 L164.0,242.1 M217.2,70.7 L218.7,70.1 L219.8,68.7 L221.4,68.1 L222.7,67.1 L223.9,65.9 L225.5,65.5 L227.0,64.4 L228.7,64.1 L230.3,63.5 L232.1,63.4 L233.9,63.1 L235.3,62.0 L237.1,61.9 L238.7,61.4 L240.2,60.3 L242.0,59.9 L243.3,58.6 L244.8,57.7 L246.5,57.1 L248.0,56.0 L249.7,55.2 L251.3,54.3 L253.2,53.9 L254.8,53.0 L256.5,53.2 L258.1,52.9 L259.7,52.2 L261.4,52.2 L263.0,52.1 L264.5,51.1 L266.2,51.5 L267.9,51.5 L269.5,50.9 L271.6,50.8 L273.7,50.4 L275.7,49.8 L277.3,48.8 L278.7,47.4 L280.6,47.0 L282.0,45.6 L283.4,44.9 L285.1,44.8 L286.7,44.3 L288.0,43.1 L289.4,42.6 L291.2,42.5 L292.5,41.5 L294.0,40.2 L295.0,38.4 L296.7,37.3 L295.0,36.6 L293.6,35.5 L292.5,34.1 L294.3,33.5 L295.6,32.0 L297.0,33.4 L298.8,34.1 L298.6,35.8 L297.7,37.3 M244.4,59.2 L242.8,58.9 L241.1,58.7 L239.5,59.1 L237.9,59.4 L236.3,59.2 L234.7,59.6 L233.1,59.8 L231.4,58.7 L229.8,59.1 L228.2,59.2 L226.6,59.2 M213.0,132.4 L214.7,131.8 L215.7,130.3 L217.4,129.6 L218.8,128.5 L219.8,127.0 L221.4,126.2 L222.6,125.0 L224.0,124.1 L225.4,123.1 L227.0,122.5 L228.2,121.3 L229.7,120.5 L230.9,119.3 L232.8,119.1 L233.9,117.8 L235.4,116.6 L237.1,115.7 L239.2,116.2 L241.2,116.8 L242.2,118.9 L243.3,120.9 L244.9,121.8 L246.7,121.7 L248.2,122.6 L250.0,122.6 L251.7,123.0 L253.4,122.5 L255.1,122.0 L256.6,121.0 L258.5,120.9 L260.1,120.1 L261.7,119.4 L263.7,119.7 L265.3,118.8 L266.7,117.7 L268.4,117.2 L270.1,116.7 L271.6,115.8 L273.0,114.8 L274.7,114.2 L276.3,113.4 L277.8,112.6 L279.3,111.6 L279.9,109.9 L281.5,109.0 L282.4,107.6 L283.6,106.4 L285.2,105.6 L286.2,104.2 L287.4,103.0 L288.6,101.9 L289.9,100.9 L291.2,99.9 L292.0,98.3 L293.3,97.3 L294.3,96.1 L295.5,94.9 L296.7,93.7 L298.1,92.9 L299.1,91.6 L300.4,90.6 L301.7,89.5 L303.2,88.9 L304.3,87.6 L305.7,86.7 L307.0,85.8 L307.8,84.1 L309.2,83.3 L310.5,82.1 L311.9,81.2 L313.1,80.0 L313.7,78.2 L314.9,77.0 L316.3,76.1 L317.6,74.9 L318.3,73.3 L319.4,72.1 L320.3,70.7 L321.9,69.8 L323.0,68.6 L324.2,67.4 L324.6,65.5 L325.9,64.5 L327.2,63.3 L328.2,62.0 L328.8,60.3 L330.5,59.5 L331.6,58.2 L332.0,56.4 L333.7,55.6 L334.3,54.0 L335.9,52.9 L337.6,51.9 L339.6,51.3 L341.0,49.8 M238.1,91.7 L240.4,90.9 L242.3,89.6 L244.1,89.5 L245.8,90.2 L247.5,90.6 L248.0,92.7 L248.6,94.8 L247.7,97.0 L246.5,99.0 L244.5,99.8 L242.3,100.0 L240.6,98.6 L239.1,96.9 L239.0,95.1 L237.9,93.5 L238.1,91.7 M180.2,164.4 L181.3,162.3 L182.3,160.2 L183.8,159.6 L185.2,158.7 L186.9,158.5 L188.6,158.3 L190.1,157.6 L191.7,157.1 L193.0,155.6 L194.8,155.0 M367.7,31.0 L367.7,32.0 L366.9,33.7 L366.9,35.4 L366.5,37.0 L367.3,38.8 L366.6,40.4 L366.1,42.0 L365.5,43.5 L364.0,44.6 L363.5,46.2 L364.5,47.5 L365.4,48.9 L365.9,50.6 L366.2,52.3 L367.1,53.7 L368.2,55.1 L367.8,57.0 L367.2,58.8 L365.8,60.4 L365.6,62.4 L365.7,64.1 L365.7,65.9 L366.1,67.6 L365.7,69.6 L365.0,71.5 L363.6,73.0 L363.0,74.9 L363.8,76.7 L365.0,78.4 L364.9,80.6 L366.1,82.2 L367.8,80.8 L369.2,79.1 L370.3,77.7 L370.4,75.8 L371.9,74.6 L372.4,72.8 L375.5,72.3 L377.8,72.6 L379.7,73.9 L382.8,73.9 L382.8,76.0 L383.6,78.1 L383.9,80.2 L384.8,78.5 L386.0,77.0 L385.5,75.1 L385.4,73.1 L384.4,71.3 L382.8,71.2 L381.2,71.0 L379.7,70.2 L379.0,68.3 L378.0,66.5 L377.6,64.5 L375.9,63.8 L374.6,62.7 L373.4,61.3 L372.6,59.7 L372.4,57.9 L372.4,56.1 L372.5,54.0 L372.9,51.9 L373.4,49.8 L374.5,48.5 L374.9,46.8 L375.9,45.4 L376.5,43.8 L377.6,42.5 L378.5,41.1 L379.7,39.9 L381.7,39.0 L383.8,38.9 L386.0,38.8 L388.1,38.5 L390.1,39.4 L392.2,39.4 L393.8,41.0 L395.4,42.5 L397.2,43.6 L398.5,45.3 L400.1,46.7 M395.4,41.5 L395.3,39.7 L393.9,38.5 L394.1,36.6 L393.2,35.2 L392.8,33.6 L392.2,32.0 L391.7,31.0 M346.2,31.0 L346.2,33.1 L345.5,34.6 L345.6,36.3 L345.2,37.8 L344.6,39.3 L344.0,40.8 L344.1,42.5 L343.9,44.2 L342.9,45.8 L342.7,47.5 L342.3,49.2 L342.0,50.9 L341.0,51.9 M405.0,105.6 L403.6,106.3 L402.1,106.9 L400.7,107.8 L399.1,108.0 L397.0,108.0 L394.9,107.6 L393.0,106.8 L391.3,105.8 L389.3,105.5 L387.4,104.9 L385.8,103.8 L384.1,103.2 L383.1,101.6 L381.7,100.7 L380.2,100.0 L378.6,99.4 L377.3,98.3 L375.9,97.4 L374.7,96.3 L373.6,95.0 L372.2,94.1 L371.2,92.8 L370.0,91.7 L368.5,90.8 L367.6,89.1 L366.3,88.1 L364.6,87.4 L362.8,88.3 L361.0,89.2 L361.8,91.3 L362.2,93.5 L361.8,95.3 L362.7,97.1 L362.8,98.9 L362.8,100.7 L362.7,102.9 L361.7,104.8 L361.0,106.8 L360.0,108.2 L358.9,109.6 L357.9,111.0 L358.3,113.1 L357.9,115.2 L355.5,117.1 M405.0,118.9 L402.6,119.2 L400.3,119.5 L398.6,120.1 L396.9,120.0 L395.2,120.3 L393.5,120.1 L391.8,120.1 L390.6,121.4 L389.1,122.4 L387.4,123.0 L385.8,123.7 L385.0,125.5 L383.7,126.9 L382.7,128.6 L382.1,130.7 L381.5,132.8 L379.9,131.8 L378.2,131.2 L376.5,130.5 L374.8,129.6 L372.9,129.4 L371.2,128.6 L369.6,128.1 L368.3,126.8 L366.4,127.1 L365.1,125.9 L363.5,125.4 L361.7,125.4 L360.4,124.3 L358.4,124.6 L356.6,125.1 L354.9,126.0 L353.1,126.7 M358.5,145.5 L356.7,147.9 L358.1,149.3 L359.8,150.3 L360.5,152.1 L362.1,153.3 L362.8,155.2 L363.4,157.1 L364.0,159.0 M357.3,114.7 L355.8,115.9 L354.3,117.2 L352.7,116.6 L351.1,116.5 L349.4,116.7 L347.6,115.6 L345.5,115.2 L344.5,116.7 L345.4,118.2 L346.5,119.6 L344.8,120.2 L343.5,121.6 L341.5,122.4 L339.6,123.5 L338.5,124.9 L337.6,126.5 L337.6,129.4 L339.3,130.7 L340.6,132.4 L340.6,134.4 L339.6,136.3 L340.9,137.5 L341.6,139.2 L344.5,140.2 L345.7,139.1 L346.9,137.9 L348.4,137.3 L350.5,137.0 L352.4,136.0 L354.3,135.3 L352.4,134.2 L350.4,133.3 L349.2,132.2 L347.9,131.2 L346.5,130.4 L345.5,128.9 L344.5,127.5 L346.5,125.5 L348.6,125.5 L350.4,126.5 L352.3,127.3 L354.3,127.5 L356.1,126.7 L357.6,125.5 L359.2,124.5 L360.8,124.9 L362.4,125.3 L364.1,125.5 L366.2,125.7 L368.0,127.0 L370.0,127.5 M337.6,160.0 L338.0,158.2 L338.5,156.4 L339.6,154.9 L338.9,153.0 L338.6,151.0 L339.8,149.6 L340.6,148.0 L341.9,146.8 L343.5,146.1 L344.5,143.1 L346.5,142.9 L348.4,142.2 L350.3,141.1 L351.4,139.2 L353.3,139.5 L355.3,139.7 L357.3,140.2 L357.6,142.2 L357.7,144.2 L358.2,146.1 L358.6,147.8 L359.4,149.4 L360.2,151.0 L361.0,152.5 L362.5,153.7 L363.5,155.2 L364.1,156.9 L364.9,158.4 L365.1,160.0 M348.4,144.1 L349.4,147.1 L352.4,146.1 L353.6,144.8 L354.3,143.1 L353.3,140.2 M400.0,106.9 L401.4,105.9 L403.1,105.4 L404.6,104.6 L406.4,103.3 L408.6,102.9 L408.0,104.8 L406.9,106.4 L405.7,108.0 L405.0,109.7 L404.6,111.5 L406.2,112.8 L408.0,113.8 L409.9,114.3 L411.9,114.3 L413.7,114.9 L412.0,115.5 L410.3,116.0 L408.8,116.8 L407.3,117.6 L405.7,118.3 L403.9,119.3 L401.8,119.1 L400.0,120.0 M410.3,110.3 L411.2,108.9 L413.0,108.4 L414.1,107.2 L414.5,105.4 L416.0,104.6 L417.2,103.5 L418.8,102.3 L420.0,100.6 L421.9,101.7 L424.0,101.7 L422.3,102.1 L420.6,102.6 L418.9,102.9 L417.2,102.9 L415.7,103.8 L415.1,105.6 L413.7,106.6 L412.9,108.2 L411.4,109.2 L410.3,110.3 M428.0,100.6 L429.3,99.4 L430.9,98.4 L431.5,96.5 L433.3,95.8 L434.3,94.3 L435.7,93.5 L437.4,93.0 L438.7,91.9 L440.0,90.9 L441.6,89.8 L443.5,89.2 L445.0,90.2 L446.9,90.3 L448.6,89.2 L450.3,88.0 L453.2,89.2 L451.5,90.9 L449.7,91.8 L447.8,92.2 L445.8,92.0 L444.0,92.9 L442.3,93.7 L440.8,94.4 L439.3,95.1 L437.7,95.5 L436.2,96.8 L434.4,97.6 L432.7,98.6 L430.9,99.5 L429.3,100.0 L428.0,101.2 M460.0,86.9 L461.0,85.4 L462.8,85.1 L464.1,84.2 L465.2,82.9 L466.7,81.6 L468.6,81.2 L468.1,82.9 L466.2,83.5 L464.8,84.7 L463.1,85.5 L461.8,86.9 M359.0,150.0 L360.5,151.1 L361.7,152.5 L363.0,153.8 L364.2,155.2 L364.1,156.9 L364.9,158.4 L365.5,159.9 L365.9,161.5 L366.2,163.1 L365.9,164.8 L365.7,166.5 L365.1,168.1 L364.2,169.6 L362.9,170.7 L362.4,172.4 L360.9,173.2 L360.3,174.8 L359.9,176.9 L359.0,178.8 L357.0,178.7 L355.1,178.1 L353.4,179.7 L351.8,181.4 L352.5,183.3 L352.6,185.3 L352.3,187.3 L353.1,189.2 L352.3,190.7 L352.0,192.3 L351.8,193.9 L351.1,195.4 L351.1,197.1 L349.6,198.5 L348.9,200.5 L347.9,202.3 L347.4,204.0 L347.9,205.8 L347.2,207.5 L348.3,209.6 L349.8,211.4 L351.1,212.7 L349.5,212.8 L347.9,212.7 L346.1,213.8 L344.6,215.4 L343.2,217.2 L342.0,219.3 L340.2,220.8 L338.1,221.9 L336.3,221.7 L335.0,220.2 L333.0,220.3 L331.5,219.3 L329.9,220.3 L328.4,221.4 L326.7,222.4 L325.0,223.2 M338.7,150.0 L338.9,151.6 L339.0,153.3 L340.2,154.6 L340.1,156.3 L340.7,157.8 L340.9,159.6 L340.6,161.3 L340.7,163.1 L340.3,164.7 L340.0,166.3 L339.5,167.9 L338.9,169.4 L338.1,170.9 L336.7,172.3 L336.1,174.2 L335.4,176.0 L334.2,177.5 L332.8,178.5 L331.8,179.7 L331.3,181.4 L330.2,182.7 L328.7,184.1 L326.9,185.1 L325.0,185.9 M201.9,232.8 L202.4,230.7 L203.8,228.9 L204.4,227.4 L205.3,226.0 M224.4,281.4 L224.6,279.3 L225.4,277.4 L226.4,275.5 M218.0,280.4 L220.0,280.4 L220.3,282.1 L218.5,282.4 L218.0,280.4 M205.4,243.8 L207.0,242.4 L209.0,241.6 L210.9,241.0 L212.7,240.1 L214.9,239.5 L216.4,237.9 L218.4,237.3 L220.1,236.0 L222.3,235.4 L224.5,234.9 L225.9,236.4 L226.8,237.8 L227.4,239.4 L229.2,239.8 L231.1,240.1 L233.3,241.6 L232.6,243.8 L234.1,244.4 L235.5,245.2 L237.7,247.4 L236.2,249.6 L234.8,251.9 L234.2,253.4 L233.3,254.8 L233.0,256.5 L231.8,257.7 L231.7,259.6 L231.1,261.4 L229.9,263.1 L229.6,265.1 L227.4,267.3 L225.2,268.8 L223.0,271.0 L221.5,272.4 L220.1,270.2 L219.5,268.0 L220.1,265.8 L221.5,264.4 L222.3,266.6 L220.8,268.8 L219.3,269.5 L217.9,270.2 L215.6,268.8 L215.5,266.6 L214.9,264.4 L214.9,261.4 L215.6,259.2 L214.5,257.6 L212.7,257.0 L212.0,254.8 L213.4,253.3 L211.8,253.0 L210.5,251.9 L209.0,249.6 L207.6,247.4 L205.4,245.2 L205.4,243.8 M213.4,245.2 L215.2,244.5 L217.1,244.5 L218.6,246.7 L219.7,248.8 L220.1,251.1 L220.3,252.9 L220.1,254.8 L217.9,256.3 L214.9,256.3 L213.4,254.1 L214.9,251.9 L213.4,249.6 L211.2,248.2 L212.2,246.6 L213.4,245.2 M199.5,248.9 L201.2,248.1 L201.7,246.3 M222.3,234.9 L224.1,235.0 L225.8,234.8 L227.4,234.2 L229.3,233.9 L231.2,234.0 L232.9,235.0 L234.8,234.9 L236.5,235.3 L238.1,234.7 L239.7,234.8 L241.3,234.1 L243.0,234.6 M275.0,213.6 L276.7,213.2 L278.5,213.6 L280.2,212.9 L282.1,213.9 L284.2,214.2 L286.3,213.2 L288.1,211.6 L289.2,209.8 L289.4,207.7 L290.5,206.2 L291.7,204.8 L293.3,203.8 L294.3,202.2 L295.9,201.2 L297.2,199.8 L297.9,198.1 L298.6,196.5 L298.5,194.6 L299.2,192.0 L300.8,191.6 L302.3,190.8 L303.8,190.0 L306.4,190.7 L304.3,191.4 L302.5,192.6 L302.2,194.3 L301.8,195.9 L303.1,197.6 L304.4,199.2 L307.0,198.5 L308.3,197.2 L310.2,197.1 L311.6,195.9 L313.2,195.0 L315.2,195.0 L316.8,194.0 L318.2,193.0 L319.3,191.6 L320.8,190.7 L321.8,189.3 L323.2,188.3 L324.7,187.4 L326.5,186.5 L328.3,185.4 L329.9,184.2 L330.9,182.0 L332.5,180.2 L333.0,178.3 L334.3,176.8 L335.1,175.0 M318.1,185.5 L318.9,183.5 L319.4,181.5 L321.4,180.2 L321.2,182.2 L320.8,184.2 L319.6,185.4 L318.1,186.1 M278.9,226.0 L281.5,227.3 L280.1,228.5 L278.9,229.9 L278.8,232.0 L277.6,233.8 L279.1,235.0 L280.3,236.4 L281.5,237.7 L282.5,239.3 L284.0,240.1 L285.5,241.0 L287.1,240.2 L288.1,238.7 L289.2,237.3 L290.7,236.4 L291.8,235.2 L293.6,234.9 L294.7,233.7 L295.9,232.5 L297.8,231.0 L299.8,229.9 L298.7,228.1 L298.5,226.0 L297.5,224.7 L296.6,223.4 L298.0,222.5 L299.2,221.4 L300.9,223.0 L302.5,224.7 L304.5,224.7 L306.4,225.3 L308.3,225.8 L310.3,226.0 L311.8,226.8 L313.6,226.3 L315.3,226.5 L316.8,227.3 L319.4,226.0 L321.3,224.5 L323.4,223.4 L324.7,224.6 L326.0,226.0 L327.5,224.1 L328.6,222.1 L330.4,220.5 L332.5,219.4 L334.1,218.4 L335.1,216.8 L336.6,215.7 L337.7,214.2 L340.4,213.6 L341.7,215.2 L343.0,216.8 L341.9,219.0 L340.4,220.8 L337.7,220.8 L339.1,223.4 L341.2,223.2 L343.0,222.1 L344.1,220.0 L345.6,218.1 L347.2,216.4 L348.2,214.2 L350.8,212.9 L349.9,211.0 L349.5,209.0 L348.2,206.4 L348.3,204.6 L349.4,203.0 L349.5,201.1 L349.6,199.1 L350.7,197.3 L350.5,195.3 L350.8,193.3 L350.8,191.6 L351.2,190.0 L351.7,188.4 L352.1,186.8 L352.1,185.0 L352.2,183.2 L351.5,181.5 L352.1,180.0 L353.4,178.9 L355.0,178.3 M288.7,220.8 L289.6,218.7 L290.7,216.8 L292.0,218.1 L291.3,219.9 L290.0,221.4 M230.0,228.9 L231.6,228.4 L232.4,226.6 L233.9,226.0 L235.3,224.4 L236.9,223.3 L238.8,222.5 L240.4,221.2 L242.4,220.3 L243.7,218.6 L245.5,217.7 L246.7,216.2 L248.7,215.9 L250.7,215.7 L252.5,214.7 L254.5,215.7 L256.2,216.0 L257.8,215.2 L259.4,215.2 L261.3,214.6 L263.4,215.2 L265.3,214.7 L267.3,214.2 L269.1,213.4 L271.2,213.7 L273.1,213.2 L275.1,212.9 L277.0,212.8 L279.0,212.7 L281.0,214.7 L282.9,214.5 L284.9,214.7 L286.7,213.4 L288.8,212.7 L290.0,211.8 M230.0,234.3 L232.0,233.7 L233.9,234.0 L235.9,234.3 L237.5,233.8 L239.3,234.2 L240.8,233.3 L241.8,230.4 L243.7,229.4 L244.7,232.4 L246.2,231.3 L248.2,231.6 L249.6,230.4 L251.5,229.6 L253.5,229.2 L255.5,228.9 L257.5,229.1 L259.4,228.4 L261.5,227.8 L263.3,226.5 L265.3,225.7 L267.3,225.0 L269.2,224.3 L271.2,224.5 L273.1,225.2 L275.1,226.0 L277.1,225.8 L279.0,226.0 L281.0,226.5 L282.0,228.4 L279.0,229.4 L278.0,231.4 L277.1,234.3 L277.6,236.5 L279.0,238.2 L280.5,238.9 L281.7,240.1 L282.9,241.2 L285.9,241.2 L287.7,240.0 L288.8,238.2 L290.0,237.3 M242.7,243.1 L244.7,241.2 L245.9,239.7 L247.6,239.2 L248.6,236.3 L249.6,233.8 L251.1,234.5 L252.5,235.3 L255.5,234.3 L257.6,233.7 L259.4,232.4 L261.5,232.2 L263.3,231.4 L265.2,230.3 L267.3,230.4 L270.2,231.4 L272.2,233.3 L272.7,235.3 L272.2,237.3 L271.0,238.7 L269.2,239.2 L267.8,240.2 L267.5,242.0 L266.3,243.1 L264.3,242.2 L263.0,240.9 L261.4,240.2 L258.4,240.2 L256.7,240.8 L255.5,242.2 L254.3,243.6 L253.1,245.0 L251.6,246.1 L250.7,247.6 L250.8,249.3 L250.6,251.0 L248.6,250.7 L246.7,250.0 L244.7,248.0 L243.7,245.1 L242.7,243.1 M273.1,229.4 L274.8,228.6 L276.1,227.5 L277.7,228.2 L279.0,229.4 L277.7,230.6 L276.1,231.4 L274.3,230.9 L273.1,229.4 M87.9,230.0 L88.3,232.0 L88.8,234.1 L89.9,235.9 L90.5,237.7 L90.9,239.5 L92.6,240.8 L92.8,242.7 L93.8,244.1 L94.3,245.7 L94.6,247.4 L95.8,248.6 L95.8,250.7 L96.8,252.5 L98.3,253.4 L99.7,254.5 L101.3,255.3 L102.6,256.5 L103.6,258.4 L105.1,259.3 L106.6,260.4 L107.6,261.9 L108.5,263.3 L108.0,266.3 L106.5,265.1 L104.6,264.8 L102.5,264.1 L100.7,262.8 L99.1,262.0 L97.5,261.6 L95.8,261.4 L94.5,260.1 L92.8,259.4 L90.8,259.4 L88.9,259.9 L86.9,260.5 L85.0,261.4 M108.5,266.3 L107.5,269.2 L108.2,271.1 L108.5,273.1 L107.7,274.7 L106.6,276.1 L104.6,276.7 L102.6,277.1 L100.9,277.8 L99.6,279.4 L97.7,280.0 L96.2,280.7 L94.4,280.4 L92.8,281.0 L91.0,282.2 L88.9,282.9 L87.1,283.9 L85.0,283.9 M90.9,282.0 L92.6,282.5 L93.8,283.9 L95.8,283.3 L97.7,282.4 L99.7,282.0 L102.6,282.0 L103.2,283.6 L104.3,284.8 L105.6,285.9 L108.5,286.9 L110.0,285.4 L110.5,283.4 L112.6,284.4 L114.4,285.9 L113.2,287.2 L111.5,287.8 L109.5,288.8 M85.0,267.3 L87.5,269.2 L88.6,270.8 L88.9,272.6 L86.5,274.1 L85.0,273.1 M85.0,283.9 L87.0,282.9 L88.9,282.0 L91.9,281.0 L92.7,282.6 L93.8,283.9 L96.8,282.9 L98.7,282.2 L100.7,281.5 L102.8,282.4 L104.6,283.9 L106.6,284.8 L108.5,285.9 L110.5,283.9 L112.4,285.0 L114.4,285.9 L111.5,286.9 L109.0,287.8 L108.1,289.2 L107.5,290.8 L105.5,291.5 L103.6,292.7 L105.1,293.7 L106.8,294.2 L108.5,294.7 L109.5,296.7 L107.9,297.0 L106.2,296.3 L104.6,296.7 L103.6,299.6 L105.6,301.6 L103.7,302.7 L101.7,303.5 L103.1,305.0 L104.6,306.5 L105.6,308.4 L104.0,308.9 L102.3,308.9 L100.7,309.4 L98.7,308.4 L97.4,309.7 L95.8,310.4 L92.8,310.4 L93.8,313.3 L92.5,315.0 L90.9,316.3 L91.1,318.2 L90.9,320.2 L89.6,321.5 L87.9,322.2 L86.6,323.4 L86.0,325.1 L85.0,328.0 M87.0,365.4 L88.0,363.7 L88.8,361.9 L89.8,360.2 L90.9,358.5 L92.6,357.2 L93.5,355.3 L94.8,353.6 L95.5,352.0 L97.0,350.9 L97.7,349.2 L99.8,348.6 L101.7,347.7 L103.4,347.2 L104.6,345.8 L106.8,346.4 L108.5,347.7 L109.5,349.7 L109.2,351.3 L108.5,352.9 L108.5,354.6 L107.5,356.5 L106.8,358.4 L106.6,360.5 L106.4,362.6 L105.5,364.5 L104.6,366.4 L104.4,368.5 L103.6,370.4 L102.6,372.3 L100.9,373.6 L100.0,375.5 L98.7,377.2 L97.3,378.9 L96.8,381.1 L96.5,382.8 L95.6,384.4 L95.7,386.2 L95.3,387.9 L93.8,388.9 L93.1,387.0 L92.8,385.0 L91.6,383.3 L89.9,382.1 L89.3,380.5 L87.6,379.7 L87.0,378.1 L86.7,376.2 L86.4,374.2 L86.0,372.3 L85.9,370.5 L86.3,368.8 L86.3,367.1 L87.0,365.4 M201.4,308.4 L202.9,307.3 L204.7,306.5 L206.6,306.0 L208.2,305.0 M182.7,335.4 L184.0,334.2 L184.7,332.7 L185.7,331.3 L187.1,330.2 L188.5,329.2 L189.2,327.6 L190.6,326.6 M119.5,190.0 L118.4,191.9 L117.8,193.6 L117.1,195.3 L116.0,196.8 L114.3,196.8 L112.7,197.4 L111.2,198.2 L109.5,198.5 L107.8,198.4 L106.2,199.2 L104.5,199.7 L102.8,200.2 L101.4,201.5 L99.6,201.7 L98.1,202.9 L96.2,203.2 L94.7,204.3 L93.0,205.0 L91.5,206.3 L89.9,207.3 L88.2,208.2 L85.7,209.0" stroke="#000" stroke-width="1.25" fill="none" stroke-linejoin="round" stroke-linecap="round"/>
<clipPath id="bold0_0"><rect x="145.0" y="185" width="53" height="49"/></clipPath>
<path d="M86.3,156.4 L88.2,155.2 L90.2,154.4 L91.3,152.8 L93.0,151.9 L94.2,150.5 L95.1,148.9 L96.8,147.9 L98.1,146.6 L100.0,146.1 L102.0,145.9 L104.0,145.4 L105.9,145.9 L107.9,145.9 L109.8,146.8 L111.1,148.5 L113.1,149.8 L113.1,152.5 L112.2,154.1 L111.1,155.7 L110.2,157.4 L108.5,158.3 L107.1,159.7 L105.3,160.3 L104.6,162.9 L103.3,164.2 L104.6,165.5 L106.6,165.8 L108.5,166.2 L106.5,166.5 L104.6,167.5 L105.9,169.4 L104.6,171.4 L102.6,171.8 L100.7,171.4 L98.7,173.4 L100.0,174.7 L101.6,173.7 L103.3,173.4 L105.0,172.5 L106.6,171.4 L108.4,171.2 L109.8,170.1 L111.2,168.5 L112.5,166.8 L114.1,165.9 L116.2,165.6 L117.7,164.2 L119.2,163.2 L121.1,163.6 L122.5,162.5 L124.2,162.3 L125.7,161.4 L127.4,160.9 L129.1,160.6 L130.8,160.3 L132.6,160.4 L134.4,159.5 L136.3,159.8 L138.1,159.6 L139.9,159.2 L142.5,160.9 L144.5,161.1 L146.4,161.6 L148.1,162.1 L149.8,162.1 L151.5,162.6 L153.0,163.6 L155.6,162.9 L154.9,164.4 L153.6,165.5 L153.1,167.5 L153.0,169.4 L151.7,171.4 L150.4,173.4 L152.2,173.6 L153.8,174.3 L155.6,174.7 L153.9,174.9 L152.1,175.3 L150.4,175.3 L149.4,176.8 L149.1,178.6 L147.6,179.7 L146.4,181.2 L144.5,181.9 L146.2,182.3 L147.7,183.2 L149.0,184.2 L150.4,185.1 L152.3,185.5 L154.3,185.8 L156.4,186.1 L158.2,185.1 L160.0,186.2 L162.1,186.4 L165.0,185.8 M152.8,165.0 L153.5,167.6 L152.8,169.7 L151.5,171.5 L150.2,174.2 L152.0,174.4 L153.7,174.7 L155.5,174.8 L153.8,175.5 L152.1,176.2 L150.2,176.1 L149.0,177.2 L147.6,178.1 L147.1,179.8 L146.3,181.3 L147.6,182.4 L148.9,183.3 L151.5,184.6 L154.2,185.9 L156.4,186.0 L158.1,184.6 L159.9,185.6 L162.0,185.9 L163.7,185.9 L165.5,186.1 L167.2,185.9 L168.3,187.2 L170.4,187.5 L171.1,189.2 L170.1,190.7 L170.5,192.5 L171.0,194.6 L172.5,196.4 L170.6,196.4 L169.2,197.7 L166.8,197.5 L164.6,198.3 L163.3,200.3 L164.8,202.1 L165.9,204.2 L167.3,205.1 L169.0,205.6 L169.7,207.4 L171.1,208.1 L170.5,210.5 L168.5,212.1 L169.0,214.1 L167.9,216.0 L167.4,218.2 L165.9,219.9 L166.5,221.6 L166.2,223.4 L165.9,225.1 L165.7,227.5 L164.0,229.1 L165.9,228.2 L167.9,229.1 L169.3,227.8 L171.1,227.7 L172.7,226.6 L174.6,226.6 L176.4,226.4 L177.7,224.8 L180.2,225.3 L181.6,223.8 L183.4,223.6 L184.9,222.3 L186.8,222.5 L188.5,222.1 L190.1,222.2 L191.7,222.3 L193.4,222.5 L195.1,221.2 L197.3,221.2 L199.1,221.1 L200.9,220.9 L202.5,219.9 L203.4,218.1 L204.2,216.4 L205.1,214.7 L204.8,213.0 L205.0,211.4 L205.4,209.8 L205.8,208.1 L205.4,206.5 L205.8,204.8 L204.9,203.3 L205.1,201.6 L204.4,199.7 L205.3,197.6 L204.7,195.7 L204.5,193.8 L203.1,192.2 L202.3,190.2 L201.2,188.5 L199.8,187.5 L199.3,185.9 L198.7,184.3 L197.3,183.3 L196.6,181.8 L195.5,180.6 L194.1,179.5 L193.4,178.1 L191.9,176.2 L190.8,174.2 L189.2,173.5 L188.3,172.0 L186.9,171.2 L185.5,170.2 L184.1,169.3 L182.4,169.1 L180.9,168.3 L179.6,166.3" stroke="#000" stroke-width="2.6" fill="none" stroke-linejoin="round" stroke-linecap="round" clip-path="url(#bold0_0)"/>
<clipPath id="bold0_1"><rect x="86.0" y="292" width="30" height="30"/></clipPath>
<path d="M85.0,283.9 L87.0,282.9 L88.9,282.0 L91.9,281.0 L92.7,282.6 L93.8,283.9 L96.8,282.9 L98.7,282.2 L100.7,281.5 L102.8,282.4 L104.6,283.9 L106.6,284.8 L108.5,285.9 L110.5,283.9 L112.4,285.0 L114.4,285.9 L111.5,286.9 L109.0,287.8 L108.1,289.2 L107.5,290.8 L105.5,291.5 L103.6,292.7 L105.1,293.7 L106.8,294.2 L108.5,294.7 L109.5,296.7 L107.9,297.0 L106.2,296.3 L104.6,296.7 L103.6,299.6 L105.6,301.6 L103.7,302.7 L101.7,303.5 L103.1,305.0 L104.6,306.5 L105.6,308.4 L104.0,308.9 L102.3,308.9 L100.7,309.4 L98.7,308.4 L97.4,309.7 L95.8,310.4 L92.8,310.4 L93.8,313.3 L92.5,315.0 L90.9,316.3 L91.1,318.2 L90.9,320.2 L89.6,321.5 L87.9,322.2 L86.6,323.4 L86.0,325.1 L85.0,328.0" stroke="#000" stroke-width="1.7" fill="none" stroke-linejoin="round" stroke-linecap="round" clip-path="url(#bold0_1)"/>
<clipPath id="bold0_2"><rect x="200.0" y="236" width="30" height="36"/></clipPath>
<path d="M205.4,243.8 L207.0,242.4 L209.0,241.6 L210.9,241.0 L212.7,240.1 L214.9,239.5 L216.4,237.9 L218.4,237.3 L220.1,236.0 L222.3,235.4 L224.5,234.9 L225.9,236.4 L226.8,237.8 L227.4,239.4 L229.2,239.8 L231.1,240.1 L233.3,241.6 L232.6,243.8 L234.1,244.4 L235.5,245.2 L237.7,247.4 L236.2,249.6 L234.8,251.9 L234.2,253.4 L233.3,254.8 L233.0,256.5 L231.8,257.7 L231.7,259.6 L231.1,261.4 L229.9,263.1 L229.6,265.1 L227.4,267.3 L225.2,268.8 L223.0,271.0 L221.5,272.4 L220.1,270.2 L219.5,268.0 L220.1,265.8 L221.5,264.4 L222.3,266.6 L220.8,268.8 L219.3,269.5 L217.9,270.2 L215.6,268.8 L215.5,266.6 L214.9,264.4 L214.9,261.4 L215.6,259.2 L214.5,257.6 L212.7,257.0 L212.0,254.8 L213.4,253.3 L211.8,253.0 L210.5,251.9 L209.0,249.6 L207.6,247.4 L205.4,245.2 L205.4,243.8 M213.4,245.2 L215.2,244.5 L217.1,244.5 L218.6,246.7 L219.7,248.8 L220.1,251.1 L220.3,252.9 L220.1,254.8 L217.9,256.3 L214.9,256.3 L213.4,254.1 L214.9,251.9 L213.4,249.6 L211.2,248.2 L212.2,246.6 L213.4,245.2 M199.5,248.9 L201.2,248.1 L201.7,246.3 M222.3,234.9 L224.1,235.0 L225.8,234.8 L227.4,234.2 L229.3,233.9 L231.2,234.0 L232.9,235.0 L234.8,234.9 L236.5,235.3 L238.1,234.7 L239.7,234.8 L241.3,234.1 L243.0,234.6 M230.0,234.3 L232.0,233.7 L233.9,234.0 L235.9,234.3 L237.5,233.8 L239.3,234.2 L240.8,233.3 L241.8,230.4 L243.7,229.4 L244.7,232.4 L246.2,231.3 L248.2,231.6 L249.6,230.4 L251.5,229.6 L253.5,229.2 L255.5,228.9 L257.5,229.1 L259.4,228.4 L261.5,227.8 L263.3,226.5 L265.3,225.7 L267.3,225.0 L269.2,224.3 L271.2,224.5 L273.1,225.2 L275.1,226.0 L277.1,225.8 L279.0,226.0 L281.0,226.5 L282.0,228.4 L279.0,229.4 L278.0,231.4 L277.1,234.3 L277.6,236.5 L279.0,238.2 L280.5,238.9 L281.7,240.1 L282.9,241.2 L285.9,241.2 L287.7,240.0 L288.8,238.2 L290.0,237.3" stroke="#000" stroke-width="2.2" fill="none" stroke-linejoin="round" stroke-linecap="round" clip-path="url(#bold0_2)"/>
<clipPath id="bold0_3"><rect x="230.0" y="225" width="60" height="20"/></clipPath>
<path d="M205.4,243.8 L207.0,242.4 L209.0,241.6 L210.9,241.0 L212.7,240.1 L214.9,239.5 L216.4,237.9 L218.4,237.3 L220.1,236.0 L222.3,235.4 L224.5,234.9 L225.9,236.4 L226.8,237.8 L227.4,239.4 L229.2,239.8 L231.1,240.1 L233.3,241.6 L232.6,243.8 L234.1,244.4 L235.5,245.2 L237.7,247.4 L236.2,249.6 L234.8,251.9 L234.2,253.4 L233.3,254.8 L233.0,256.5 L231.8,257.7 L231.7,259.6 L231.1,261.4 L229.9,263.1 L229.6,265.1 L227.4,267.3 L225.2,268.8 L223.0,271.0 L221.5,272.4 L220.1,270.2 L219.5,268.0 L220.1,265.8 L221.5,264.4 L222.3,266.6 L220.8,268.8 L219.3,269.5 L217.9,270.2 L215.6,268.8 L215.5,266.6 L214.9,264.4 L214.9,261.4 L215.6,259.2 L214.5,257.6 L212.7,257.0 L212.0,254.8 L213.4,253.3 L211.8,253.0 L210.5,251.9 L209.0,249.6 L207.6,247.4 L205.4,245.2 L205.4,243.8 M222.3,234.9 L224.1,235.0 L225.8,234.8 L227.4,234.2 L229.3,233.9 L231.2,234.0 L232.9,235.0 L234.8,234.9 L236.5,235.3 L238.1,234.7 L239.7,234.8 L241.3,234.1 L243.0,234.6 M278.9,226.0 L281.5,227.3 L280.1,228.5 L278.9,229.9 L278.8,232.0 L277.6,233.8 L279.1,235.0 L280.3,236.4 L281.5,237.7 L282.5,239.3 L284.0,240.1 L285.5,241.0 L287.1,240.2 L288.1,238.7 L289.2,237.3 L290.7,236.4 L291.8,235.2 L293.6,234.9 L294.7,233.7 L295.9,232.5 L297.8,231.0 L299.8,229.9 L298.7,228.1 L298.5,226.0 L297.5,224.7 L296.6,223.4 L298.0,222.5 L299.2,221.4 L300.9,223.0 L302.5,224.7 L304.5,224.7 L306.4,225.3 L308.3,225.8 L310.3,226.0 L311.8,226.8 L313.6,226.3 L315.3,226.5 L316.8,227.3 L319.4,226.0 L321.3,224.5 L323.4,223.4 L324.7,224.6 L326.0,226.0 L327.5,224.1 L328.6,222.1 L330.4,220.5 L332.5,219.4 L334.1,218.4 L335.1,216.8 L336.6,215.7 L337.7,214.2 L340.4,213.6 L341.7,215.2 L343.0,216.8 L341.9,219.0 L340.4,220.8 L337.7,220.8 L339.1,223.4 L341.2,223.2 L343.0,222.1 L344.1,220.0 L345.6,218.1 L347.2,216.4 L348.2,214.2 L350.8,212.9 L349.9,211.0 L349.5,209.0 L348.2,206.4 L348.3,204.6 L349.4,203.0 L349.5,201.1 L349.6,199.1 L350.7,197.3 L350.5,195.3 L350.8,193.3 L350.8,191.6 L351.2,190.0 L351.7,188.4 L352.1,186.8 L352.1,185.0 L352.2,183.2 L351.5,181.5 L352.1,180.0 L353.4,178.9 L355.0,178.3 M230.0,228.9 L231.6,228.4 L232.4,226.6 L233.9,226.0 L235.3,224.4 L236.9,223.3 L238.8,222.5 L240.4,221.2 L242.4,220.3 L243.7,218.6 L245.5,217.7 L246.7,216.2 L248.7,215.9 L250.7,215.7 L252.5,214.7 L254.5,215.7 L256.2,216.0 L257.8,215.2 L259.4,215.2 L261.3,214.6 L263.4,215.2 L265.3,214.7 L267.3,214.2 L269.1,213.4 L271.2,213.7 L273.1,213.2 L275.1,212.9 L277.0,212.8 L279.0,212.7 L281.0,214.7 L282.9,214.5 L284.9,214.7 L286.7,213.4 L288.8,212.7 L290.0,211.8 M230.0,234.3 L232.0,233.7 L233.9,234.0 L235.9,234.3 L237.5,233.8 L239.3,234.2 L240.8,233.3 L241.8,230.4 L243.7,229.4 L244.7,232.4 L246.2,231.3 L248.2,231.6 L249.6,230.4 L251.5,229.6 L253.5,229.2 L255.5,228.9 L257.5,229.1 L259.4,228.4 L261.5,227.8 L263.3,226.5 L265.3,225.7 L267.3,225.0 L269.2,224.3 L271.2,224.5 L273.1,225.2 L275.1,226.0 L277.1,225.8 L279.0,226.0 L281.0,226.5 L282.0,228.4 L279.0,229.4 L278.0,231.4 L277.1,234.3 L277.6,236.5 L279.0,238.2 L280.5,238.9 L281.7,240.1 L282.9,241.2 L285.9,241.2 L287.7,240.0 L288.8,238.2 L290.0,237.3 M242.7,243.1 L244.7,241.2 L245.9,239.7 L247.6,239.2 L248.6,236.3 L249.6,233.8 L251.1,234.5 L252.5,235.3 L255.5,234.3 L257.6,233.7 L259.4,232.4 L261.5,232.2 L263.3,231.4 L265.2,230.3 L267.3,230.4 L270.2,231.4 L272.2,233.3 L272.7,235.3 L272.2,237.3 L271.0,238.7 L269.2,239.2 L267.8,240.2 L267.5,242.0 L266.3,243.1 L264.3,242.2 L263.0,240.9 L261.4,240.2 L258.4,240.2 L256.7,240.8 L255.5,242.2 L254.3,243.6 L253.1,245.0 L251.6,246.1 L250.7,247.6 L250.8,249.3 L250.6,251.0 L248.6,250.7 L246.7,250.0 L244.7,248.0 L243.7,245.1 L242.7,243.1 M273.1,229.4 L274.8,228.6 L276.1,227.5 L277.7,228.2 L279.0,229.4 L277.7,230.6 L276.1,231.4 L274.3,230.9 L273.1,229.4" stroke="#000" stroke-width="1.9" fill="none" stroke-linejoin="round" stroke-linecap="round" clip-path="url(#bold0_3)"/>
<ellipse cx="102.0" cy="164.2" rx="2.2" ry="2.0" transform="rotate(0 102.0 164.2)" fill="#000"/>
<ellipse cx="146.7" cy="116.8" rx="1.6" ry="1.6" transform="rotate(0 146.7 116.8)" fill="#000"/>
<ellipse cx="171.8" cy="111.5" rx="1.9" ry="1.6" transform="rotate(0 171.8 111.5)" fill="#000"/>
<ellipse cx="197.9" cy="108.4" rx="1.6" ry="2.0" transform="rotate(30 197.9 108.4)" fill="#000"/>
<ellipse cx="355.6" cy="91.7" rx="1.5" ry="1.5" transform="rotate(0 355.6 91.7)" fill="#000"/>
<ellipse cx="333.2" cy="130.4" rx="1.7" ry="1.4" transform="rotate(30 333.2 130.4)" fill="#000"/>
<ellipse cx="426.3" cy="109.8" rx="2.2" ry="1.6" transform="rotate(-20 426.3 109.8)" fill="#000"/>
<ellipse cx="208.3" cy="237.5" rx="1.6" ry="1.5" transform="rotate(0 208.3 237.5)" fill="#000"/>
<ellipse cx="254.0" cy="206.1" rx="2.0" ry="2.0" transform="rotate(0 254.0 206.1)" fill="#000"/>
<ellipse cx="94.3" cy="267.7" rx="2.0" ry="1.5" transform="rotate(0 94.3 267.7)" fill="#000"/>
<ellipse cx="204.8" cy="307.0" rx="3.6" ry="1.6" transform="rotate(-30 204.8 307.0)" fill="#000"/>
<ellipse cx="198.9" cy="314.3" rx="1.6" ry="1.6" transform="rotate(0 198.9 314.3)" fill="#000"/>
<ellipse cx="186.7" cy="331.0" rx="5.0" ry="1.9" transform="rotate(-50 186.7 331.0)" fill="#000"/>
<ellipse cx="153.0" cy="352.4" rx="1.8" ry="1.4" transform="rotate(30 153.0 352.4)" fill="#000"/>
<ellipse cx="132.9" cy="358.2" rx="2.2" ry="1.6" transform="rotate(0 132.9 358.2)" fill="#000"/>
<ellipse cx="137.4" cy="357.1" rx="2.0" ry="1.6" transform="rotate(-20 137.4 357.1)" fill="#000"/>
<ellipse cx="139.3" cy="355.1" rx="1.5" ry="1.2" transform="rotate(0 139.3 355.1)" fill="#000"/>
<ellipse cx="152.6" cy="185.4" rx="1.8" ry="1.2" transform="rotate(20 152.6 185.4)" fill="#000"/>
<ellipse cx="166.3" cy="197.5" rx="1.6" ry="1.4" transform="rotate(0 166.3 197.5)" fill="#000"/>
<ellipse cx="169.7" cy="204.3" rx="1.2" ry="1.0" transform="rotate(0 169.7 204.3)" fill="#000"/>
<ellipse cx="167.5" cy="213.5" rx="1.2" ry="1.0" transform="rotate(0 167.5 213.5)" fill="#000"/>
<ellipse cx="165.7" cy="221.5" rx="1.4" ry="1.2" transform="rotate(0 165.7 221.5)" fill="#000"/>
<ellipse cx="164.6" cy="228.3" rx="1.6" ry="1.3" transform="rotate(0 164.6 228.3)" fill="#000"/>
<ellipse cx="176.6" cy="226.6" rx="1.6" ry="1.1" transform="rotate(-20 176.6 226.6)" fill="#000"/>
<ellipse cx="183.5" cy="223.8" rx="1.5" ry="1.1" transform="rotate(-20 183.5 223.8)" fill="#000"/>
<ellipse cx="193.8" cy="223.8" rx="1.6" ry="1.3" transform="rotate(0 193.8 223.8)" fill="#000"/>
<ellipse cx="153.7" cy="175.1" rx="1.5" ry="1.0" transform="rotate(0 153.7 175.1)" fill="#000"/>
<ellipse cx="170.9" cy="188.3" rx="1.2" ry="1.0" transform="rotate(0 170.9 188.3)" fill="#000"/>
<ellipse cx="172.0" cy="197.5" rx="1.3" ry="1.0" transform="rotate(0 172.0 197.5)" fill="#000"/>
<ellipse cx="110.0" cy="292.0" rx="1.6" ry="1.2" transform="rotate(0 110.0 292.0)" fill="#000"/>
<ellipse cx="105.0" cy="305.0" rx="1.4" ry="1.2" transform="rotate(0 105.0 305.0)" fill="#000"/>
<ellipse cx="102.0" cy="318.0" rx="1.4" ry="1.1" transform="rotate(0 102.0 318.0)" fill="#000"/>
<rect x="85.5" y="31.5" width="383.0" height="383.0" fill="none" stroke="#000" stroke-width="1.2"/>
<text x="80.9" y="97.0" font-size="8.9" text-anchor="end" textLength="18.7" lengthAdjust="spacingAndGlyphs">45°N</text>
<text x="80.9" y="161.0" font-size="8.9" text-anchor="end" textLength="18.7" lengthAdjust="spacingAndGlyphs">40°N</text>
<text x="80.9" y="225.0" font-size="8.9" text-anchor="end" textLength="18.7" lengthAdjust="spacingAndGlyphs">35°N</text>
<text x="80.9" y="288.5" font-size="8.9" text-anchor="end" textLength="18.7" lengthAdjust="spacingAndGlyphs">30°N</text>
<text x="80.9" y="352.0" font-size="8.9" text-anchor="end" textLength="18.7" lengthAdjust="spacingAndGlyphs">25°N</text>
<text x="149.9" y="424.8" font-size="8.9" text-anchor="middle" textLength="22.2" lengthAdjust="spacingAndGlyphs">125°E</text>
<text x="212.9" y="424.8" font-size="8.9" text-anchor="middle" textLength="22.2" lengthAdjust="spacingAndGlyphs">130°E</text>
<text x="276.9" y="424.8" font-size="8.9" text-anchor="middle" textLength="22.2" lengthAdjust="spacingAndGlyphs">135°E</text>
<text x="340.9" y="424.8" font-size="8.9" text-anchor="middle" textLength="22.2" lengthAdjust="spacingAndGlyphs">140°E</text>
<text x="404.9" y="424.8" font-size="8.9" text-anchor="middle" textLength="22.2" lengthAdjust="spacingAndGlyphs">145°E</text>
</g>
<g>
<rect x="555.5" y="31.5" width="383.0" height="383.0" fill="#fff"/>
<clipPath id="clip1"><rect x="555.5" y="31.5" width="383.0" height="383.0"/></clipPath>
<g clip-path="url(#clip1)">
<path d="M794.0,99.6 L799.2,94.4 L812.3,91.8 L822.7,90.5 L830.6,90.5 L838.4,91.8 L859.3,93.1 L869.8,94.4 L880.3,95.7 L890.7,98.3 L896.0,103.5 L901.2,108.8 L903.8,116.6 L903.8,127.1 L901.2,132.3 L896.0,137.5 L885.5,144.0 L875.0,146.7 L864.6,146.7 L854.1,148.0 L848.9,153.2 L847.6,158.4 L852.5,165.7 L856.4,173.5 L856.4,184.0 L853.8,191.8 L848.6,198.4 L844.7,202.3 L843.4,208.8 L843.4,215.0 L842.5,220.0 L839.2,225.0 L833.3,231.7 L828.3,234.2 L818.3,237.5 L810.0,244.2 L805.0,249.2 L795.8,252.5 L776.7,252.5 L773.3,250.0 L766.7,255.0 L760.0,261.7 L755.3,264.7 L743.5,269.1 L731.8,272.1 L725.9,276.5 L724.4,285.3 L714.1,297.1 L706.8,305.9 L702.4,317.6 L696.5,323.5 L690.0,328.0 L688.3,334.9 L682.6,345.2 L676.9,352.0 L670.0,356.6 L664.3,360.0 L642.6,361.2 L638.0,360.0 L633.5,368.0 L631.2,373.7 L624.3,379.5 L618.6,383.5 L596.9,383.5 L594.6,381.8 L586.3,376.6 L581.4,370.1 L579.8,361.9 L579.0,355.4 L578.0,345.6 L581.4,340.7 L586.3,335.8 L592.9,332.5 L599.4,329.2 L610.9,328.4 L615.8,329.2 L619.0,327.6 L624.0,322.7 L627.2,319.4 L632.1,314.5 L638.7,309.6 L645.2,303.1 L645.2,296.5 L650.1,290.0 L655.3,288.2 L662.6,279.4 L661.2,270.6 L656.8,258.8 L655.3,244.1 L654.9,232.0 L655.9,229.1 L659.8,224.2 L669.6,219.3 L676.5,215.4 L682.4,212.5 L690.2,204.6 L694.1,196.8 L701.0,191.9 L710.0,188.9 L714.4,188.5 L737.4,182.2 L745.8,179.1 L762.5,174.9 L765.2,171.5 L775.7,161.0 L777.0,153.2 L780.9,142.7 L783.5,132.3 L782.2,119.2 L786.1,106.1Z" fill="#FFEABE"/>
<path d="M710.0,188.9 L701.0,191.9 L694.1,196.8 L690.2,204.6 L682.4,212.5 L676.0,215.8 L683.3,216.4 L691.2,212.5 L698.0,203.6 L704.9,198.7 L712.0,194.0Z M655.9,231.1 L662.7,230.1 L669.6,234.0 L670.6,239.9 L669.6,245.0 L655.9,245.0Z M681.4,228.1 L691.2,227.2 L692.2,234.0 L687.3,237.0 L681.4,235.0Z M807.2,236.2 L807.0,237.5 L806.2,238.5 L805.1,239.2 L803.8,239.4 L802.4,239.2 L801.3,238.5 L800.5,237.5 L800.2,236.2 L800.5,235.0 L801.3,234.0 L802.4,233.3 L803.8,233.1 L805.1,233.3 L806.2,234.0 L807.0,235.0Z M674.0,337.5 L673.7,339.0 L672.8,340.3 L671.5,341.2 L670.0,341.5 L668.5,341.2 L667.2,340.3 L666.3,339.0 L666.0,337.5 L666.3,336.0 L667.2,334.7 L668.5,333.8 L670.0,333.5 L671.5,333.8 L672.8,334.7 L673.7,336.0Z M799.2,127.0 L799.0,127.8 L798.6,128.4 L797.8,128.8 L797.0,129.0 L796.2,128.8 L795.4,128.4 L795.0,127.8 L794.8,127.0 L795.0,126.2 L795.4,125.6 L796.2,125.2 L797.0,125.0 L797.8,125.2 L798.6,125.6 L799.0,126.2Z M601.5,368.0 L601.4,368.6 L601.1,369.1 L600.6,369.4 L600.0,369.5 L599.4,369.4 L598.9,369.1 L598.6,368.6 L598.5,368.0 L598.6,367.4 L598.9,366.9 L599.4,366.6 L600.0,366.5 L600.6,366.6 L601.1,366.9 L601.4,367.4Z M579.1,344.1 L583.5,337.5 L590.9,333.8 L602.6,328.7 L615.9,328.7 L621.8,325.0 L629.1,319.9 L632.8,322.1 L632.1,338.2 L633.5,348.5 L632.1,361.8 L624.7,369.1 L608.5,373.5 L596.8,375.0 L586.5,370.6 L580.6,364.7 L578.4,355.9Z" fill="#E1FFD2"/>
<path d="M577.6,346.0 L584.7,342.3 L592.9,337.4 L596.2,330.9 L602.7,328.2 L612.5,328.2 L617.4,331.5 L619.0,339.0 L617.4,347.2 L615.8,358.7 L610.9,363.6 L599.4,365.2 L589.6,363.6 L579.0,362.5 L578.0,355.4Z" fill="#64FFFF" stroke="#64FFFF" stroke-width="1.0" stroke-linejoin="round"/>
<path d="M593.4,336.0 L596.9,331.4 L602.6,329.7 L611.7,330.3 L614.6,334.9 L614.0,342.9 L609.4,346.3 L607.2,349.7 L608.3,354.3 L607.2,357.7 L601.4,359.5 L594.6,358.9 L592.3,354.3 L594.6,349.7 L596.9,346.3 L594.6,340.6Z M589.6,355.8 L589.3,357.2 L588.5,358.3 L587.3,359.1 L585.8,359.4 L584.3,359.1 L583.1,358.3 L582.3,357.2 L582.0,355.8 L582.3,354.4 L583.1,353.3 L584.3,352.5 L585.8,352.2 L587.3,352.5 L588.5,353.3 L589.3,354.4Z M593.5,347.5 L593.2,348.3 L592.3,348.9 L591.0,349.3 L589.5,349.5 L588.0,349.3 L586.7,348.9 L585.8,348.3 L585.5,347.5 L585.8,346.7 L586.7,346.1 L588.0,345.7 L589.5,345.5 L591.0,345.7 L592.3,346.1 L593.2,346.7Z" fill="#00C8FF" stroke="#00C8FF" stroke-width="6.5" stroke-linejoin="round"/>
<path d="M593.4,336.0 L596.9,331.4 L602.6,329.7 L611.7,330.3 L614.6,334.9 L614.0,342.9 L609.4,346.3 L607.2,349.7 L608.3,354.3 L607.2,357.7 L601.4,359.5 L594.6,358.9 L592.3,354.3 L594.6,349.7 L596.9,346.3 L594.6,340.6Z M589.6,355.8 L589.3,357.2 L588.5,358.3 L587.3,359.1 L585.8,359.4 L584.3,359.1 L583.1,358.3 L582.3,357.2 L582.0,355.8 L582.3,354.4 L583.1,353.3 L584.3,352.5 L585.8,352.2 L587.3,352.5 L588.5,353.3 L589.3,354.4Z M593.5,347.5 L593.2,348.3 L592.3,348.9 L591.0,349.3 L589.5,349.5 L588.0,349.3 L586.7,348.9 L585.8,348.3 L585.5,347.5 L585.8,346.7 L586.7,346.1 L588.0,345.7 L589.5,345.5 L591.0,345.7 L592.3,346.1 L593.2,346.7Z" fill="#0064FF" stroke="#0064FF" stroke-width="5.0" stroke-linejoin="round"/>
<path d="M593.4,336.0 L596.9,331.4 L602.6,329.7 L611.7,330.3 L614.6,334.9 L614.0,342.9 L609.4,346.3 L607.2,349.7 L608.3,354.3 L607.2,357.7 L601.4,359.5 L594.6,358.9 L592.3,354.3 L594.6,349.7 L596.9,346.3 L594.6,340.6Z M589.6,355.8 L589.3,357.2 L588.5,358.3 L587.3,359.1 L585.8,359.4 L584.3,359.1 L583.1,358.3 L582.3,357.2 L582.0,355.8 L582.3,354.4 L583.1,353.3 L584.3,352.5 L585.8,352.2 L587.3,352.5 L588.5,353.3 L589.3,354.4Z M593.5,347.5 L593.2,348.3 L592.3,348.9 L591.0,349.3 L589.5,349.5 L588.0,349.3 L586.7,348.9 L585.8,348.3 L585.5,347.5 L585.8,346.7 L586.7,346.1 L588.0,345.7 L589.5,345.5 L591.0,345.7 L592.3,346.1 L593.2,346.7Z" fill="#8C64FF" stroke="#8C64FF" stroke-width="1.6" stroke-linejoin="round"/>
<path d="M593.4,336.0 L596.9,331.4 L602.6,329.7 L611.7,330.3 L614.6,334.9 L614.0,342.9 L609.4,346.3 L607.2,349.7 L608.3,354.3 L607.2,357.7 L601.4,359.5 L594.6,358.9 L592.3,354.3 L594.6,349.7 L596.9,346.3 L594.6,340.6Z M589.6,355.8 L589.3,357.2 L588.5,358.3 L587.3,359.1 L585.8,359.4 L584.3,359.1 L583.1,358.3 L582.3,357.2 L582.0,355.8 L582.3,354.4 L583.1,353.3 L584.3,352.5 L585.8,352.2 L587.3,352.5 L588.5,353.3 L589.3,354.4Z M593.5,347.5 L593.2,348.3 L592.3,348.9 L591.0,349.3 L589.5,349.5 L588.0,349.3 L586.7,348.9 L585.8,348.3 L585.5,347.5 L585.8,346.7 L586.7,346.1 L588.0,345.7 L589.5,345.5 L591.0,345.7 L592.3,346.1 L593.2,346.7Z" fill="#E064FF"/>
<path d="M601.9,336.0 L601.8,336.5 L601.4,337.0 L600.9,337.3 L600.3,337.4 L599.7,337.3 L599.2,337.0 L598.8,336.5 L598.7,336.0 L598.8,335.5 L599.2,335.0 L599.7,334.7 L600.3,334.6 L600.9,334.7 L601.4,335.0 L601.8,335.5Z M609.7,337.5 L609.5,338.2 L609.1,338.7 L608.5,339.1 L607.7,339.2 L606.9,339.1 L606.3,338.7 L605.9,338.2 L605.7,337.5 L605.9,336.8 L606.3,336.3 L606.9,335.9 L607.7,335.8 L608.5,335.9 L609.1,336.3 L609.5,336.8Z" fill="#FF00FF"/>
</g>
<path d="M618.5,31.5 V414.5 M555.5,94.5 H938.5 M682.5,31.5 V414.5 M555.5,158.5 H938.5 M746.5,31.5 V414.5 M555.5,222.5 H938.5 M810.5,31.5 V414.5 M555.5,286.0 H938.5 M874.5,31.5 V414.5 M555.5,349.5 H938.5" stroke="#000" stroke-opacity="0.28" stroke-width="1" fill="none"/>
<path d="M556.3,156.4 L558.2,155.2 L560.2,154.4 L561.3,152.8 L563.0,151.9 L564.2,150.5 L565.1,148.9 L566.8,147.9 L568.1,146.6 L570.0,146.1 L572.0,145.9 L574.0,145.4 L575.9,145.9 L577.9,145.9 L579.8,146.8 L581.1,148.5 L583.1,149.8 L583.1,152.5 L582.2,154.1 L581.1,155.7 L580.2,157.4 L578.5,158.3 L577.1,159.7 L575.3,160.3 L574.6,162.9 L573.3,164.2 L574.6,165.5 L576.6,165.8 L578.5,166.2 L576.5,166.5 L574.6,167.5 L575.9,169.4 L574.6,171.4 L572.6,171.8 L570.7,171.4 L568.7,173.4 L570.0,174.7 L571.6,173.7 L573.3,173.4 L575.0,172.5 L576.6,171.4 L578.4,171.2 L579.8,170.1 L581.2,168.5 L582.5,166.8 L584.1,165.9 L586.2,165.6 L587.7,164.2 L589.2,163.2 L591.1,163.6 L592.5,162.5 L594.2,162.3 L595.7,161.4 L597.4,160.9 L599.1,160.6 L600.8,160.3 L602.6,160.4 L604.4,159.5 L606.3,159.8 L608.1,159.6 L609.9,159.2 L612.5,160.9 L614.5,161.1 L616.4,161.6 L618.1,162.1 L619.8,162.1 L621.5,162.6 L623.0,163.6 L625.6,162.9 L624.9,164.4 L623.6,165.5 L623.1,167.5 L623.0,169.4 L621.7,171.4 L620.4,173.4 L622.2,173.6 L623.8,174.3 L625.6,174.7 L623.9,174.9 L622.1,175.3 L620.4,175.3 L619.4,176.8 L619.1,178.6 L617.6,179.7 L616.4,181.2 L614.5,181.9 L616.2,182.3 L617.7,183.2 L619.0,184.2 L620.4,185.1 L622.3,185.5 L624.3,185.8 L626.4,186.1 L628.2,185.1 L630.0,186.2 L632.1,186.4 L635.0,185.8 M555.0,189.7 L556.2,188.4 L558.0,187.9 L558.9,186.4 L560.6,185.8 L562.4,185.9 L564.2,185.8 L566.0,187.0 L568.1,187.7 L570.2,188.0 L572.0,189.1 L574.0,189.4 L576.0,189.2 L577.8,190.2 L579.8,190.4 L581.5,190.9 L583.3,190.9 L585.1,191.0 L587.0,191.7 L589.0,191.7 M617.7,151.8 L619.4,150.7 L621.3,150.2 L623.0,149.2 M555.0,157.5 L556.3,156.6 L557.6,155.5 L558.7,154.4 L560.3,153.6 L561.3,152.3 L563.0,151.7 L564.0,150.2 L565.6,149.3 L566.6,147.7 L568.4,147.3 L569.6,146.0 L571.5,146.2 L573.3,146.6 L575.1,146.4 L577.0,146.0 L578.0,145.0 L579.7,146.4 L581.1,148.1 L582.3,149.6 L583.2,151.3 L582.0,152.5 L581.6,154.4 L580.1,155.4 L579.1,157.2 L578.0,159.0 M655.4,159.0 L656.8,158.0 L658.4,157.2 L659.9,156.4 L661.8,156.4 L663.1,155.1 L664.7,154.5 L666.3,153.9 L667.9,153.4 L669.7,152.8 L670.9,151.2 L672.6,150.7 L674.2,149.9 L676.0,149.4 L677.4,148.1 L677.9,146.4 L678.1,144.7 L677.6,142.9 L678.0,141.1 L678.1,139.4 L678.4,137.7 L679.9,136.6 L681.1,135.4 L681.6,133.5 L683.0,132.4 M607.3,90.2 L609.3,90.8 L611.1,92.1 M618.8,151.9 L620.4,150.6 L622.3,149.8 M622.8,165.0 L623.5,167.6 L622.8,169.7 L621.5,171.5 L620.2,174.2 L622.0,174.4 L623.7,174.7 L625.5,174.8 L623.8,175.5 L622.1,176.2 L620.2,176.1 L619.0,177.2 L617.6,178.1 L617.1,179.8 L616.3,181.3 L617.6,182.4 L618.9,183.3 L621.5,184.6 L624.2,185.9 L626.4,186.0 L628.1,184.6 L629.9,185.6 L632.0,185.9 L633.7,185.9 L635.5,186.1 L637.2,185.9 L638.3,187.2 L640.4,187.5 L641.1,189.2 L640.1,190.7 L640.5,192.5 L641.0,194.6 L642.5,196.4 L640.6,196.4 L639.2,197.7 L636.8,197.5 L634.6,198.3 L633.3,200.3 L634.8,202.1 L635.9,204.2 L637.3,205.1 L639.0,205.6 L639.7,207.4 L641.1,208.1 L640.5,210.5 L638.5,212.1 L639.0,214.1 L637.9,216.0 L637.4,218.2 L635.9,219.9 L636.5,221.6 L636.2,223.4 L635.9,225.1 L635.7,227.5 L634.0,229.1 L635.9,228.2 L637.9,229.1 L639.3,227.8 L641.1,227.7 L642.7,226.6 L644.6,226.6 L646.4,226.4 L647.7,224.8 L650.2,225.3 L651.6,223.8 L653.4,223.6 L654.9,222.3 L656.8,222.5 L658.5,222.1 L660.1,222.2 L661.7,222.3 L663.4,222.5 L665.1,221.2 L667.3,221.2 L669.1,221.1 L670.9,220.9 L672.5,219.9 L673.4,218.1 L674.2,216.4 L675.1,214.7 L674.8,213.0 L675.0,211.4 L675.4,209.8 L675.8,208.1 L675.4,206.5 L675.8,204.8 L674.9,203.3 L675.1,201.6 L674.4,199.7 L675.3,197.6 L674.7,195.7 L674.5,193.8 L673.1,192.2 L672.3,190.2 L671.2,188.5 L669.8,187.5 L669.3,185.9 L668.7,184.3 L667.3,183.3 L666.6,181.8 L665.5,180.6 L664.1,179.5 L663.4,178.1 L661.9,176.2 L660.8,174.2 L659.2,173.5 L658.3,172.0 L656.9,171.2 L655.5,170.2 L654.1,169.3 L652.4,169.1 L650.9,168.3 L649.6,166.3 M673.8,226.4 L673.7,228.5 L672.6,230.3 L672.5,232.3 M634.0,242.1 L636.1,241.8 L637.9,240.6 L640.1,241.2 L642.5,241.1 L643.1,243.2 L640.7,243.4 L638.5,244.2 L636.5,243.6 L634.3,243.7 L634.0,242.1 M687.2,70.7 L688.7,70.1 L689.8,68.7 L691.4,68.1 L692.7,67.1 L693.9,65.9 L695.5,65.5 L697.0,64.4 L698.7,64.1 L700.3,63.5 L702.1,63.4 L703.9,63.1 L705.3,62.0 L707.1,61.9 L708.7,61.4 L710.2,60.3 L712.0,59.9 L713.3,58.6 L714.8,57.7 L716.5,57.1 L718.0,56.0 L719.7,55.2 L721.3,54.3 L723.2,53.9 L724.8,53.0 L726.5,53.2 L728.1,52.9 L729.7,52.2 L731.4,52.2 L733.0,52.1 L734.5,51.1 L736.2,51.5 L737.9,51.5 L739.5,50.9 L741.6,50.8 L743.7,50.4 L745.7,49.8 L747.3,48.8 L748.7,47.4 L750.6,47.0 L752.0,45.6 L753.4,44.9 L755.1,44.8 L756.7,44.3 L758.0,43.1 L759.4,42.6 L761.2,42.5 L762.5,41.5 L764.0,40.2 L765.0,38.4 L766.7,37.3 L765.0,36.6 L763.6,35.5 L762.5,34.1 L764.3,33.5 L765.6,32.0 L767.0,33.4 L768.8,34.1 L768.6,35.8 L767.7,37.3 M714.4,59.2 L712.8,58.9 L711.1,58.7 L709.5,59.1 L707.9,59.4 L706.3,59.2 L704.7,59.6 L703.1,59.8 L701.4,58.7 L699.8,59.1 L698.2,59.2 L696.6,59.2 M683.0,132.4 L684.7,131.8 L685.7,130.3 L687.4,129.6 L688.8,128.5 L689.8,127.0 L691.4,126.2 L692.6,125.0 L694.0,124.1 L695.4,123.1 L697.0,122.5 L698.2,121.3 L699.7,120.5 L700.9,119.3 L702.8,119.1 L703.9,117.8 L705.4,116.6 L707.1,115.7 L709.2,116.2 L711.2,116.8 L712.2,118.9 L713.3,120.9 L714.9,121.8 L716.7,121.7 L718.2,122.6 L720.0,122.6 L721.7,123.0 L723.4,122.5 L725.1,122.0 L726.6,121.0 L728.5,120.9 L730.1,120.1 L731.7,119.4 L733.7,119.7 L735.3,118.8 L736.7,117.7 L738.4,117.2 L740.1,116.7 L741.6,115.8 L743.0,114.8 L744.7,114.2 L746.3,113.4 L747.8,112.6 L749.3,111.6 L749.9,109.9 L751.5,109.0 L752.4,107.6 L753.6,106.4 L755.2,105.6 L756.2,104.2 L757.4,103.0 L758.6,101.9 L759.9,100.9 L761.2,99.9 L762.0,98.3 L763.3,97.3 L764.3,96.1 L765.5,94.9 L766.7,93.7 L768.1,92.9 L769.1,91.6 L770.4,90.6 L771.7,89.5 L773.2,88.9 L774.3,87.6 L775.7,86.7 L777.0,85.8 L777.8,84.1 L779.2,83.3 L780.5,82.1 L781.9,81.2 L783.1,80.0 L783.7,78.2 L784.9,77.0 L786.3,76.1 L787.6,74.9 L788.3,73.3 L789.4,72.1 L790.3,70.7 L791.9,69.8 L793.0,68.6 L794.2,67.4 L794.6,65.5 L795.9,64.5 L797.2,63.3 L798.2,62.0 L798.8,60.3 L800.5,59.5 L801.6,58.2 L802.0,56.4 L803.7,55.6 L804.3,54.0 L805.9,52.9 L807.6,51.9 L809.6,51.3 L811.0,49.8 M708.1,91.7 L710.4,90.9 L712.3,89.6 L714.1,89.5 L715.8,90.2 L717.5,90.6 L718.0,92.7 L718.6,94.8 L717.7,97.0 L716.5,99.0 L714.5,99.8 L712.3,100.0 L710.6,98.6 L709.1,96.9 L709.0,95.1 L707.9,93.5 L708.1,91.7 M650.2,164.4 L651.3,162.3 L652.3,160.2 L653.8,159.6 L655.2,158.7 L656.9,158.5 L658.6,158.3 L660.1,157.6 L661.7,157.1 L663.0,155.6 L664.8,155.0 M837.7,31.0 L837.7,32.0 L836.9,33.7 L836.9,35.4 L836.5,37.0 L837.3,38.8 L836.6,40.4 L836.1,42.0 L835.5,43.5 L834.0,44.6 L833.5,46.2 L834.5,47.5 L835.4,48.9 L835.9,50.6 L836.2,52.3 L837.1,53.7 L838.2,55.1 L837.8,57.0 L837.2,58.8 L835.8,60.4 L835.6,62.4 L835.7,64.1 L835.7,65.9 L836.1,67.6 L835.7,69.6 L835.0,71.5 L833.6,73.0 L833.0,74.9 L833.8,76.7 L835.0,78.4 L834.9,80.6 L836.1,82.2 L837.8,80.8 L839.2,79.1 L840.3,77.7 L840.4,75.8 L841.9,74.6 L842.4,72.8 L845.5,72.3 L847.8,72.6 L849.7,73.9 L852.8,73.9 L852.8,76.0 L853.6,78.1 L853.9,80.2 L854.8,78.5 L856.0,77.0 L855.5,75.1 L855.4,73.1 L854.4,71.3 L852.8,71.2 L851.2,71.0 L849.7,70.2 L849.0,68.3 L848.0,66.5 L847.6,64.5 L845.9,63.8 L844.6,62.7 L843.4,61.3 L842.6,59.7 L842.4,57.9 L842.4,56.1 L842.5,54.0 L842.9,51.9 L843.4,49.8 L844.5,48.5 L844.9,46.8 L845.9,45.4 L846.5,43.8 L847.6,42.5 L848.5,41.1 L849.7,39.9 L851.7,39.0 L853.8,38.9 L856.0,38.8 L858.1,38.5 L860.1,39.4 L862.2,39.4 L863.8,41.0 L865.4,42.5 L867.2,43.6 L868.5,45.3 L870.1,46.7 M865.4,41.5 L865.3,39.7 L863.9,38.5 L864.1,36.6 L863.2,35.2 L862.8,33.6 L862.2,32.0 L861.7,31.0 M816.2,31.0 L816.2,33.1 L815.5,34.6 L815.6,36.3 L815.2,37.8 L814.6,39.3 L814.0,40.8 L814.1,42.5 L813.9,44.2 L812.9,45.8 L812.7,47.5 L812.3,49.2 L812.0,50.9 L811.0,51.9 M875.0,105.6 L873.6,106.3 L872.1,106.9 L870.7,107.8 L869.1,108.0 L867.0,108.0 L864.9,107.6 L863.0,106.8 L861.3,105.8 L859.3,105.5 L857.4,104.9 L855.8,103.8 L854.1,103.2 L853.1,101.6 L851.7,100.7 L850.2,100.0 L848.6,99.4 L847.3,98.3 L845.9,97.4 L844.7,96.3 L843.6,95.0 L842.2,94.1 L841.2,92.8 L840.0,91.7 L838.5,90.8 L837.6,89.1 L836.3,88.1 L834.6,87.4 L832.8,88.3 L831.0,89.2 L831.8,91.3 L832.2,93.5 L831.8,95.3 L832.7,97.1 L832.8,98.9 L832.8,100.7 L832.7,102.9 L831.7,104.8 L831.0,106.8 L830.0,108.2 L828.9,109.6 L827.9,111.0 L828.3,113.1 L827.9,115.2 L825.5,117.1 M875.0,118.9 L872.6,119.2 L870.3,119.5 L868.6,120.1 L866.9,120.0 L865.2,120.3 L863.5,120.1 L861.8,120.1 L860.6,121.4 L859.1,122.4 L857.4,123.0 L855.8,123.7 L855.0,125.5 L853.7,126.9 L852.7,128.6 L852.1,130.7 L851.5,132.8 L849.9,131.8 L848.2,131.2 L846.5,130.5 L844.8,129.6 L842.9,129.4 L841.2,128.6 L839.6,128.1 L838.3,126.8 L836.4,127.1 L835.1,125.9 L833.5,125.4 L831.7,125.4 L830.4,124.3 L828.4,124.6 L826.6,125.1 L824.9,126.0 L823.1,126.7 M828.5,145.5 L826.7,147.9 L828.1,149.3 L829.8,150.3 L830.5,152.1 L832.1,153.3 L832.8,155.2 L833.4,157.1 L834.0,159.0 M827.3,114.7 L825.8,115.9 L824.3,117.2 L822.7,116.6 L821.1,116.5 L819.4,116.7 L817.6,115.6 L815.5,115.2 L814.5,116.7 L815.4,118.2 L816.5,119.6 L814.8,120.2 L813.5,121.6 L811.5,122.4 L809.6,123.5 L808.5,124.9 L807.6,126.5 L807.6,129.4 L809.3,130.7 L810.6,132.4 L810.6,134.4 L809.6,136.3 L810.9,137.5 L811.6,139.2 L814.5,140.2 L815.7,139.1 L816.9,137.9 L818.4,137.3 L820.5,137.0 L822.4,136.0 L824.3,135.3 L822.4,134.2 L820.4,133.3 L819.2,132.2 L817.9,131.2 L816.5,130.4 L815.5,128.9 L814.5,127.5 L816.5,125.5 L818.6,125.5 L820.4,126.5 L822.3,127.3 L824.3,127.5 L826.1,126.7 L827.6,125.5 L829.2,124.5 L830.8,124.9 L832.4,125.3 L834.1,125.5 L836.2,125.7 L838.0,127.0 L840.0,127.5 M807.6,160.0 L808.0,158.2 L808.5,156.4 L809.6,154.9 L808.9,153.0 L808.6,151.0 L809.8,149.6 L810.6,148.0 L811.9,146.8 L813.5,146.1 L814.5,143.1 L816.5,142.9 L818.4,142.2 L820.3,141.1 L821.4,139.2 L823.3,139.5 L825.3,139.7 L827.3,140.2 L827.6,142.2 L827.7,144.2 L828.2,146.1 L828.6,147.8 L829.4,149.4 L830.2,151.0 L831.0,152.5 L832.5,153.7 L833.5,155.2 L834.1,156.9 L834.9,158.4 L835.1,160.0 M818.4,144.1 L819.4,147.1 L822.4,146.1 L823.6,144.8 L824.3,143.1 L823.3,140.2 M870.0,106.9 L871.4,105.9 L873.1,105.4 L874.6,104.6 L876.4,103.3 L878.6,102.9 L878.0,104.8 L876.9,106.4 L875.7,108.0 L875.0,109.7 L874.6,111.5 L876.2,112.8 L878.0,113.8 L879.9,114.3 L881.9,114.3 L883.7,114.9 L882.0,115.5 L880.3,116.0 L878.8,116.8 L877.3,117.6 L875.7,118.3 L873.9,119.3 L871.8,119.1 L870.0,120.0 M880.3,110.3 L881.2,108.9 L883.0,108.4 L884.1,107.2 L884.5,105.4 L886.0,104.6 L887.2,103.5 L888.8,102.3 L890.0,100.6 L891.9,101.7 L894.0,101.7 L892.3,102.1 L890.6,102.6 L888.9,102.9 L887.2,102.9 L885.7,103.8 L885.1,105.6 L883.7,106.6 L882.9,108.2 L881.4,109.2 L880.3,110.3 M898.0,100.6 L899.3,99.4 L900.9,98.4 L901.5,96.5 L903.3,95.8 L904.3,94.3 L905.7,93.5 L907.4,93.0 L908.7,91.9 L910.0,90.9 L911.6,89.8 L913.5,89.2 L915.0,90.2 L916.9,90.3 L918.6,89.2 L920.3,88.0 L923.2,89.2 L921.5,90.9 L919.7,91.8 L917.8,92.2 L915.8,92.0 L914.0,92.9 L912.3,93.7 L910.8,94.4 L909.3,95.1 L907.7,95.5 L906.2,96.8 L904.4,97.6 L902.7,98.6 L900.9,99.5 L899.3,100.0 L898.0,101.2 M930.0,86.9 L931.0,85.4 L932.8,85.1 L934.1,84.2 L935.2,82.9 L936.7,81.6 L938.6,81.2 L938.1,82.9 L936.2,83.5 L934.8,84.7 L933.1,85.5 L931.8,86.9 M829.0,150.0 L830.5,151.1 L831.7,152.5 L833.0,153.8 L834.2,155.2 L834.1,156.9 L834.9,158.4 L835.5,159.9 L835.9,161.5 L836.2,163.1 L835.9,164.8 L835.7,166.5 L835.1,168.1 L834.2,169.6 L832.9,170.7 L832.4,172.4 L830.9,173.2 L830.3,174.8 L829.9,176.9 L829.0,178.8 L827.0,178.7 L825.1,178.1 L823.4,179.7 L821.8,181.4 L822.5,183.3 L822.6,185.3 L822.3,187.3 L823.1,189.2 L822.3,190.7 L822.0,192.3 L821.8,193.9 L821.1,195.4 L821.1,197.1 L819.6,198.5 L818.9,200.5 L817.9,202.3 L817.4,204.0 L817.9,205.8 L817.2,207.5 L818.3,209.6 L819.8,211.4 L821.1,212.7 L819.5,212.8 L817.9,212.7 L816.1,213.8 L814.6,215.4 L813.2,217.2 L812.0,219.3 L810.2,220.8 L808.1,221.9 L806.3,221.7 L805.0,220.2 L803.0,220.3 L801.5,219.3 L799.9,220.3 L798.4,221.4 L796.7,222.4 L795.0,223.2 M808.7,150.0 L808.9,151.6 L809.0,153.3 L810.2,154.6 L810.1,156.3 L810.7,157.8 L810.9,159.6 L810.6,161.3 L810.7,163.1 L810.3,164.7 L810.0,166.3 L809.5,167.9 L808.9,169.4 L808.1,170.9 L806.7,172.3 L806.1,174.2 L805.4,176.0 L804.2,177.5 L802.8,178.5 L801.8,179.7 L801.3,181.4 L800.2,182.7 L798.7,184.1 L796.9,185.1 L795.0,185.9 M671.9,232.8 L672.4,230.7 L673.8,228.9 L674.4,227.4 L675.3,226.0 M694.4,281.4 L694.6,279.3 L695.4,277.4 L696.4,275.5 M688.0,280.4 L690.0,280.4 L690.3,282.1 L688.5,282.4 L688.0,280.4 M675.4,243.8 L677.0,242.4 L679.0,241.6 L680.9,241.0 L682.7,240.1 L684.9,239.5 L686.4,237.9 L688.4,237.3 L690.1,236.0 L692.3,235.4 L694.5,234.9 L695.9,236.4 L696.8,237.8 L697.4,239.4 L699.2,239.8 L701.1,240.1 L703.3,241.6 L702.6,243.8 L704.1,244.4 L705.5,245.2 L707.7,247.4 L706.2,249.6 L704.8,251.9 L704.2,253.4 L703.3,254.8 L703.0,256.5 L701.8,257.7 L701.7,259.6 L701.1,261.4 L699.9,263.1 L699.6,265.1 L697.4,267.3 L695.2,268.8 L693.0,271.0 L691.5,272.4 L690.1,270.2 L689.5,268.0 L690.1,265.8 L691.5,264.4 L692.3,266.6 L690.8,268.8 L689.3,269.5 L687.9,270.2 L685.6,268.8 L685.5,266.6 L684.9,264.4 L684.9,261.4 L685.6,259.2 L684.5,257.6 L682.7,257.0 L682.0,254.8 L683.4,253.3 L681.8,253.0 L680.5,251.9 L679.0,249.6 L677.6,247.4 L675.4,245.2 L675.4,243.8 M683.4,245.2 L685.2,244.5 L687.1,244.5 L688.6,246.7 L689.7,248.8 L690.1,251.1 L690.3,252.9 L690.1,254.8 L687.9,256.3 L684.9,256.3 L683.4,254.1 L684.9,251.9 L683.4,249.6 L681.2,248.2 L682.2,246.6 L683.4,245.2 M669.5,248.9 L671.2,248.1 L671.7,246.3 M692.3,234.9 L694.1,235.0 L695.8,234.8 L697.4,234.2 L699.3,233.9 L701.2,234.0 L702.9,235.0 L704.8,234.9 L706.5,235.3 L708.1,234.7 L709.7,234.8 L711.3,234.1 L713.0,234.6 M745.0,213.6 L746.7,213.2 L748.5,213.6 L750.2,212.9 L752.1,213.9 L754.2,214.2 L756.3,213.2 L758.1,211.6 L759.2,209.8 L759.4,207.7 L760.5,206.2 L761.7,204.8 L763.3,203.8 L764.3,202.2 L765.9,201.2 L767.2,199.8 L767.9,198.1 L768.6,196.5 L768.5,194.6 L769.2,192.0 L770.8,191.6 L772.3,190.8 L773.8,190.0 L776.4,190.7 L774.3,191.4 L772.5,192.6 L772.2,194.3 L771.8,195.9 L773.1,197.6 L774.4,199.2 L777.0,198.5 L778.3,197.2 L780.2,197.1 L781.6,195.9 L783.2,195.0 L785.2,195.0 L786.8,194.0 L788.2,193.0 L789.3,191.6 L790.8,190.7 L791.8,189.3 L793.2,188.3 L794.7,187.4 L796.5,186.5 L798.3,185.4 L799.9,184.2 L800.9,182.0 L802.5,180.2 L803.0,178.3 L804.3,176.8 L805.1,175.0 M788.1,185.5 L788.9,183.5 L789.4,181.5 L791.4,180.2 L791.2,182.2 L790.8,184.2 L789.6,185.4 L788.1,186.1 M748.9,226.0 L751.5,227.3 L750.1,228.5 L748.9,229.9 L748.8,232.0 L747.6,233.8 L749.1,235.0 L750.3,236.4 L751.5,237.7 L752.5,239.3 L754.0,240.1 L755.5,241.0 L757.1,240.2 L758.1,238.7 L759.2,237.3 L760.7,236.4 L761.8,235.2 L763.6,234.9 L764.7,233.7 L765.9,232.5 L767.8,231.0 L769.8,229.9 L768.7,228.1 L768.5,226.0 L767.5,224.7 L766.6,223.4 L768.0,222.5 L769.2,221.4 L770.9,223.0 L772.5,224.7 L774.5,224.7 L776.4,225.3 L778.3,225.8 L780.3,226.0 L781.8,226.8 L783.6,226.3 L785.3,226.5 L786.8,227.3 L789.4,226.0 L791.3,224.5 L793.4,223.4 L794.7,224.6 L796.0,226.0 L797.5,224.1 L798.6,222.1 L800.4,220.5 L802.5,219.4 L804.1,218.4 L805.1,216.8 L806.6,215.7 L807.7,214.2 L810.4,213.6 L811.7,215.2 L813.0,216.8 L811.9,219.0 L810.4,220.8 L807.7,220.8 L809.1,223.4 L811.2,223.2 L813.0,222.1 L814.1,220.0 L815.6,218.1 L817.2,216.4 L818.2,214.2 L820.8,212.9 L819.9,211.0 L819.5,209.0 L818.2,206.4 L818.3,204.6 L819.4,203.0 L819.5,201.1 L819.6,199.1 L820.7,197.3 L820.5,195.3 L820.8,193.3 L820.8,191.6 L821.2,190.0 L821.7,188.4 L822.1,186.8 L822.1,185.0 L822.2,183.2 L821.5,181.5 L822.1,180.0 L823.4,178.9 L825.0,178.3 M758.7,220.8 L759.6,218.7 L760.7,216.8 L762.0,218.1 L761.3,219.9 L760.0,221.4 M700.0,228.9 L701.6,228.4 L702.4,226.6 L703.9,226.0 L705.3,224.4 L706.9,223.3 L708.8,222.5 L710.4,221.2 L712.4,220.3 L713.7,218.6 L715.5,217.7 L716.7,216.2 L718.7,215.9 L720.7,215.7 L722.5,214.7 L724.5,215.7 L726.2,216.0 L727.8,215.2 L729.4,215.2 L731.3,214.6 L733.4,215.2 L735.3,214.7 L737.3,214.2 L739.1,213.4 L741.2,213.7 L743.1,213.2 L745.1,212.9 L747.0,212.8 L749.0,212.7 L751.0,214.7 L752.9,214.5 L754.9,214.7 L756.7,213.4 L758.8,212.7 L760.0,211.8 M700.0,234.3 L702.0,233.7 L703.9,234.0 L705.9,234.3 L707.5,233.8 L709.3,234.2 L710.8,233.3 L711.8,230.4 L713.7,229.4 L714.7,232.4 L716.2,231.3 L718.2,231.6 L719.6,230.4 L721.5,229.6 L723.5,229.2 L725.5,228.9 L727.5,229.1 L729.4,228.4 L731.5,227.8 L733.3,226.5 L735.3,225.7 L737.3,225.0 L739.2,224.3 L741.2,224.5 L743.1,225.2 L745.1,226.0 L747.1,225.8 L749.0,226.0 L751.0,226.5 L752.0,228.4 L749.0,229.4 L748.0,231.4 L747.1,234.3 L747.6,236.5 L749.0,238.2 L750.5,238.9 L751.7,240.1 L752.9,241.2 L755.9,241.2 L757.7,240.0 L758.8,238.2 L760.0,237.3 M712.7,243.1 L714.7,241.2 L715.9,239.7 L717.6,239.2 L718.6,236.3 L719.6,233.8 L721.1,234.5 L722.5,235.3 L725.5,234.3 L727.6,233.7 L729.4,232.4 L731.5,232.2 L733.3,231.4 L735.2,230.3 L737.3,230.4 L740.2,231.4 L742.2,233.3 L742.7,235.3 L742.2,237.3 L741.0,238.7 L739.2,239.2 L737.8,240.2 L737.5,242.0 L736.3,243.1 L734.3,242.2 L733.0,240.9 L731.4,240.2 L728.4,240.2 L726.7,240.8 L725.5,242.2 L724.3,243.6 L723.1,245.0 L721.6,246.1 L720.7,247.6 L720.8,249.3 L720.6,251.0 L718.6,250.7 L716.7,250.0 L714.7,248.0 L713.7,245.1 L712.7,243.1 M743.1,229.4 L744.8,228.6 L746.1,227.5 L747.7,228.2 L749.0,229.4 L747.7,230.6 L746.1,231.4 L744.3,230.9 L743.1,229.4 M557.9,230.0 L558.3,232.0 L558.8,234.1 L559.9,235.9 L560.5,237.7 L560.9,239.5 L562.6,240.8 L562.8,242.7 L563.8,244.1 L564.3,245.7 L564.6,247.4 L565.8,248.6 L565.8,250.7 L566.8,252.5 L568.3,253.4 L569.7,254.5 L571.3,255.3 L572.6,256.5 L573.6,258.4 L575.1,259.3 L576.6,260.4 L577.6,261.9 L578.5,263.3 L578.0,266.3 L576.5,265.1 L574.6,264.8 L572.5,264.1 L570.7,262.8 L569.1,262.0 L567.5,261.6 L565.8,261.4 L564.5,260.1 L562.8,259.4 L560.8,259.4 L558.9,259.9 L556.9,260.5 L555.0,261.4 M578.5,266.3 L577.5,269.2 L578.2,271.1 L578.5,273.1 L577.7,274.7 L576.6,276.1 L574.6,276.7 L572.6,277.1 L570.9,277.8 L569.6,279.4 L567.7,280.0 L566.2,280.7 L564.4,280.4 L562.8,281.0 L561.0,282.2 L558.9,282.9 L557.1,283.9 L555.0,283.9 M560.9,282.0 L562.6,282.5 L563.8,283.9 L565.8,283.3 L567.7,282.4 L569.7,282.0 L572.6,282.0 L573.2,283.6 L574.3,284.8 L575.6,285.9 L578.5,286.9 L580.0,285.4 L580.5,283.4 L582.6,284.4 L584.4,285.9 L583.2,287.2 L581.5,287.8 L579.5,288.8 M555.0,267.3 L557.5,269.2 L558.6,270.8 L558.9,272.6 L556.5,274.1 L555.0,273.1 M555.0,283.9 L557.0,282.9 L558.9,282.0 L561.9,281.0 L562.7,282.6 L563.8,283.9 L566.8,282.9 L568.7,282.2 L570.7,281.5 L572.8,282.4 L574.6,283.9 L576.6,284.8 L578.5,285.9 L580.5,283.9 L582.4,285.0 L584.4,285.9 L581.5,286.9 L579.0,287.8 L578.1,289.2 L577.5,290.8 L575.5,291.5 L573.6,292.7 L575.1,293.7 L576.8,294.2 L578.5,294.7 L579.5,296.7 L577.9,297.0 L576.2,296.3 L574.6,296.7 L573.6,299.6 L575.6,301.6 L573.7,302.7 L571.7,303.5 L573.1,305.0 L574.6,306.5 L575.6,308.4 L574.0,308.9 L572.3,308.9 L570.7,309.4 L568.7,308.4 L567.4,309.7 L565.8,310.4 L562.8,310.4 L563.8,313.3 L562.5,315.0 L560.9,316.3 L561.1,318.2 L560.9,320.2 L559.6,321.5 L557.9,322.2 L556.6,323.4 L556.0,325.1 L555.0,328.0 M557.0,365.4 L558.0,363.7 L558.8,361.9 L559.8,360.2 L560.9,358.5 L562.6,357.2 L563.5,355.3 L564.8,353.6 L565.5,352.0 L567.0,350.9 L567.7,349.2 L569.8,348.6 L571.7,347.7 L573.4,347.2 L574.6,345.8 L576.8,346.4 L578.5,347.7 L579.5,349.7 L579.2,351.3 L578.5,352.9 L578.5,354.6 L577.5,356.5 L576.8,358.4 L576.6,360.5 L576.4,362.6 L575.5,364.5 L574.6,366.4 L574.4,368.5 L573.6,370.4 L572.6,372.3 L570.9,373.6 L570.0,375.5 L568.7,377.2 L567.3,378.9 L566.8,381.1 L566.5,382.8 L565.6,384.4 L565.7,386.2 L565.3,387.9 L563.8,388.9 L563.1,387.0 L562.8,385.0 L561.6,383.3 L559.9,382.1 L559.3,380.5 L557.6,379.7 L557.0,378.1 L556.7,376.2 L556.4,374.2 L556.0,372.3 L555.9,370.5 L556.3,368.8 L556.3,367.1 L557.0,365.4 M671.4,308.4 L672.9,307.3 L674.7,306.5 L676.6,306.0 L678.2,305.0 M652.7,335.4 L654.0,334.2 L654.7,332.7 L655.7,331.3 L657.1,330.2 L658.5,329.2 L659.2,327.6 L660.6,326.6 M589.5,190.0 L588.4,191.9 L587.8,193.6 L587.1,195.3 L586.0,196.8 L584.3,196.8 L582.7,197.4 L581.2,198.2 L579.5,198.5 L577.8,198.4 L576.2,199.2 L574.5,199.7 L572.8,200.2 L571.4,201.5 L569.6,201.7 L568.1,202.9 L566.2,203.2 L564.7,204.3 L563.0,205.0 L561.5,206.3 L559.9,207.3 L558.2,208.2 L555.7,209.0" stroke="#000" stroke-width="1.25" fill="none" stroke-linejoin="round" stroke-linecap="round"/>
<clipPath id="bold1_0"><rect x="615.0" y="185" width="53" height="49"/></clipPath>
<path d="M556.3,156.4 L558.2,155.2 L560.2,154.4 L561.3,152.8 L563.0,151.9 L564.2,150.5 L565.1,148.9 L566.8,147.9 L568.1,146.6 L570.0,146.1 L572.0,145.9 L574.0,145.4 L575.9,145.9 L577.9,145.9 L579.8,146.8 L581.1,148.5 L583.1,149.8 L583.1,152.5 L582.2,154.1 L581.1,155.7 L580.2,157.4 L578.5,158.3 L577.1,159.7 L575.3,160.3 L574.6,162.9 L573.3,164.2 L574.6,165.5 L576.6,165.8 L578.5,166.2 L576.5,166.5 L574.6,167.5 L575.9,169.4 L574.6,171.4 L572.6,171.8 L570.7,171.4 L568.7,173.4 L570.0,174.7 L571.6,173.7 L573.3,173.4 L575.0,172.5 L576.6,171.4 L578.4,171.2 L579.8,170.1 L581.2,168.5 L582.5,166.8 L584.1,165.9 L586.2,165.6 L587.7,164.2 L589.2,163.2 L591.1,163.6 L592.5,162.5 L594.2,162.3 L595.7,161.4 L597.4,160.9 L599.1,160.6 L600.8,160.3 L602.6,160.4 L604.4,159.5 L606.3,159.8 L608.1,159.6 L609.9,159.2 L612.5,160.9 L614.5,161.1 L616.4,161.6 L618.1,162.1 L619.8,162.1 L621.5,162.6 L623.0,163.6 L625.6,162.9 L624.9,164.4 L623.6,165.5 L623.1,167.5 L623.0,169.4 L621.7,171.4 L620.4,173.4 L622.2,173.6 L623.8,174.3 L625.6,174.7 L623.9,174.9 L622.1,175.3 L620.4,175.3 L619.4,176.8 L619.1,178.6 L617.6,179.7 L616.4,181.2 L614.5,181.9 L616.2,182.3 L617.7,183.2 L619.0,184.2 L620.4,185.1 L622.3,185.5 L624.3,185.8 L626.4,186.1 L628.2,185.1 L630.0,186.2 L632.1,186.4 L635.0,185.8 M622.8,165.0 L623.5,167.6 L622.8,169.7 L621.5,171.5 L620.2,174.2 L622.0,174.4 L623.7,174.7 L625.5,174.8 L623.8,175.5 L622.1,176.2 L620.2,176.1 L619.0,177.2 L617.6,178.1 L617.1,179.8 L616.3,181.3 L617.6,182.4 L618.9,183.3 L621.5,184.6 L624.2,185.9 L626.4,186.0 L628.1,184.6 L629.9,185.6 L632.0,185.9 L633.7,185.9 L635.5,186.1 L637.2,185.9 L638.3,187.2 L640.4,187.5 L641.1,189.2 L640.1,190.7 L640.5,192.5 L641.0,194.6 L642.5,196.4 L640.6,196.4 L639.2,197.7 L636.8,197.5 L634.6,198.3 L633.3,200.3 L634.8,202.1 L635.9,204.2 L637.3,205.1 L639.0,205.6 L639.7,207.4 L641.1,208.1 L640.5,210.5 L638.5,212.1 L639.0,214.1 L637.9,216.0 L637.4,218.2 L635.9,219.9 L636.5,221.6 L636.2,223.4 L635.9,225.1 L635.7,227.5 L634.0,229.1 L635.9,228.2 L637.9,229.1 L639.3,227.8 L641.1,227.7 L642.7,226.6 L644.6,226.6 L646.4,226.4 L647.7,224.8 L650.2,225.3 L651.6,223.8 L653.4,223.6 L654.9,222.3 L656.8,222.5 L658.5,222.1 L660.1,222.2 L661.7,222.3 L663.4,222.5 L665.1,221.2 L667.3,221.2 L669.1,221.1 L670.9,220.9 L672.5,219.9 L673.4,218.1 L674.2,216.4 L675.1,214.7 L674.8,213.0 L675.0,211.4 L675.4,209.8 L675.8,208.1 L675.4,206.5 L675.8,204.8 L674.9,203.3 L675.1,201.6 L674.4,199.7 L675.3,197.6 L674.7,195.7 L674.5,193.8 L673.1,192.2 L672.3,190.2 L671.2,188.5 L669.8,187.5 L669.3,185.9 L668.7,184.3 L667.3,183.3 L666.6,181.8 L665.5,180.6 L664.1,179.5 L663.4,178.1 L661.9,176.2 L660.8,174.2 L659.2,173.5 L658.3,172.0 L656.9,171.2 L655.5,170.2 L654.1,169.3 L652.4,169.1 L650.9,168.3 L649.6,166.3" stroke="#000" stroke-width="2.6" fill="none" stroke-linejoin="round" stroke-linecap="round" clip-path="url(#bold1_0)"/>
<clipPath id="bold1_1"><rect x="556.0" y="292" width="30" height="30"/></clipPath>
<path d="M555.0,283.9 L557.0,282.9 L558.9,282.0 L561.9,281.0 L562.7,282.6 L563.8,283.9 L566.8,282.9 L568.7,282.2 L570.7,281.5 L572.8,282.4 L574.6,283.9 L576.6,284.8 L578.5,285.9 L580.5,283.9 L582.4,285.0 L584.4,285.9 L581.5,286.9 L579.0,287.8 L578.1,289.2 L577.5,290.8 L575.5,291.5 L573.6,292.7 L575.1,293.7 L576.8,294.2 L578.5,294.7 L579.5,296.7 L577.9,297.0 L576.2,296.3 L574.6,296.7 L573.6,299.6 L575.6,301.6 L573.7,302.7 L571.7,303.5 L573.1,305.0 L574.6,306.5 L575.6,308.4 L574.0,308.9 L572.3,308.9 L570.7,309.4 L568.7,308.4 L567.4,309.7 L565.8,310.4 L562.8,310.4 L563.8,313.3 L562.5,315.0 L560.9,316.3 L561.1,318.2 L560.9,320.2 L559.6,321.5 L557.9,322.2 L556.6,323.4 L556.0,325.1 L555.0,328.0" stroke="#000" stroke-width="1.7" fill="none" stroke-linejoin="round" stroke-linecap="round" clip-path="url(#bold1_1)"/>
<clipPath id="bold1_2"><rect x="670.0" y="236" width="30" height="36"/></clipPath>
<path d="M675.4,243.8 L677.0,242.4 L679.0,241.6 L680.9,241.0 L682.7,240.1 L684.9,239.5 L686.4,237.9 L688.4,237.3 L690.1,236.0 L692.3,235.4 L694.5,234.9 L695.9,236.4 L696.8,237.8 L697.4,239.4 L699.2,239.8 L701.1,240.1 L703.3,241.6 L702.6,243.8 L704.1,244.4 L705.5,245.2 L707.7,247.4 L706.2,249.6 L704.8,251.9 L704.2,253.4 L703.3,254.8 L703.0,256.5 L701.8,257.7 L701.7,259.6 L701.1,261.4 L699.9,263.1 L699.6,265.1 L697.4,267.3 L695.2,268.8 L693.0,271.0 L691.5,272.4 L690.1,270.2 L689.5,268.0 L690.1,265.8 L691.5,264.4 L692.3,266.6 L690.8,268.8 L689.3,269.5 L687.9,270.2 L685.6,268.8 L685.5,266.6 L684.9,264.4 L684.9,261.4 L685.6,259.2 L684.5,257.6 L682.7,257.0 L682.0,254.8 L683.4,253.3 L681.8,253.0 L680.5,251.9 L679.0,249.6 L677.6,247.4 L675.4,245.2 L675.4,243.8 M683.4,245.2 L685.2,244.5 L687.1,244.5 L688.6,246.7 L689.7,248.8 L690.1,251.1 L690.3,252.9 L690.1,254.8 L687.9,256.3 L684.9,256.3 L683.4,254.1 L684.9,251.9 L683.4,249.6 L681.2,248.2 L682.2,246.6 L683.4,245.2 M669.5,248.9 L671.2,248.1 L671.7,246.3 M692.3,234.9 L694.1,235.0 L695.8,234.8 L697.4,234.2 L699.3,233.9 L701.2,234.0 L702.9,235.0 L704.8,234.9 L706.5,235.3 L708.1,234.7 L709.7,234.8 L711.3,234.1 L713.0,234.6 M700.0,234.3 L702.0,233.7 L703.9,234.0 L705.9,234.3 L707.5,233.8 L709.3,234.2 L710.8,233.3 L711.8,230.4 L713.7,229.4 L714.7,232.4 L716.2,231.3 L718.2,231.6 L719.6,230.4 L721.5,229.6 L723.5,229.2 L725.5,228.9 L727.5,229.1 L729.4,228.4 L731.5,227.8 L733.3,226.5 L735.3,225.7 L737.3,225.0 L739.2,224.3 L741.2,224.5 L743.1,225.2 L745.1,226.0 L747.1,225.8 L749.0,226.0 L751.0,226.5 L752.0,228.4 L749.0,229.4 L748.0,231.4 L747.1,234.3 L747.6,236.5 L749.0,238.2 L750.5,238.9 L751.7,240.1 L752.9,241.2 L755.9,241.2 L757.7,240.0 L758.8,238.2 L760.0,237.3" stroke="#000" stroke-width="2.2" fill="none" stroke-linejoin="round" stroke-linecap="round" clip-path="url(#bold1_2)"/>
<clipPath id="bold1_3"><rect x="700.0" y="225" width="60" height="20"/></clipPath>
<path d="M675.4,243.8 L677.0,242.4 L679.0,241.6 L680.9,241.0 L682.7,240.1 L684.9,239.5 L686.4,237.9 L688.4,237.3 L690.1,236.0 L692.3,235.4 L694.5,234.9 L695.9,236.4 L696.8,237.8 L697.4,239.4 L699.2,239.8 L701.1,240.1 L703.3,241.6 L702.6,243.8 L704.1,244.4 L705.5,245.2 L707.7,247.4 L706.2,249.6 L704.8,251.9 L704.2,253.4 L703.3,254.8 L703.0,256.5 L701.8,257.7 L701.7,259.6 L701.1,261.4 L699.9,263.1 L699.6,265.1 L697.4,267.3 L695.2,268.8 L693.0,271.0 L691.5,272.4 L690.1,270.2 L689.5,268.0 L690.1,265.8 L691.5,264.4 L692.3,266.6 L690.8,268.8 L689.3,269.5 L687.9,270.2 L685.6,268.8 L685.5,266.6 L684.9,264.4 L684.9,261.4 L685.6,259.2 L684.5,257.6 L682.7,257.0 L682.0,254.8 L683.4,253.3 L681.8,253.0 L680.5,251.9 L679.0,249.6 L677.6,247.4 L675.4,245.2 L675.4,243.8 M692.3,234.9 L694.1,235.0 L695.8,234.8 L697.4,234.2 L699.3,233.9 L701.2,234.0 L702.9,235.0 L704.8,234.9 L706.5,235.3 L708.1,234.7 L709.7,234.8 L711.3,234.1 L713.0,234.6 M748.9,226.0 L751.5,227.3 L750.1,228.5 L748.9,229.9 L748.8,232.0 L747.6,233.8 L749.1,235.0 L750.3,236.4 L751.5,237.7 L752.5,239.3 L754.0,240.1 L755.5,241.0 L757.1,240.2 L758.1,238.7 L759.2,237.3 L760.7,236.4 L761.8,235.2 L763.6,234.9 L764.7,233.7 L765.9,232.5 L767.8,231.0 L769.8,229.9 L768.7,228.1 L768.5,226.0 L767.5,224.7 L766.6,223.4 L768.0,222.5 L769.2,221.4 L770.9,223.0 L772.5,224.7 L774.5,224.7 L776.4,225.3 L778.3,225.8 L780.3,226.0 L781.8,226.8 L783.6,226.3 L785.3,226.5 L786.8,227.3 L789.4,226.0 L791.3,224.5 L793.4,223.4 L794.7,224.6 L796.0,226.0 L797.5,224.1 L798.6,222.1 L800.4,220.5 L802.5,219.4 L804.1,218.4 L805.1,216.8 L806.6,215.7 L807.7,214.2 L810.4,213.6 L811.7,215.2 L813.0,216.8 L811.9,219.0 L810.4,220.8 L807.7,220.8 L809.1,223.4 L811.2,223.2 L813.0,222.1 L814.1,220.0 L815.6,218.1 L817.2,216.4 L818.2,214.2 L820.8,212.9 L819.9,211.0 L819.5,209.0 L818.2,206.4 L818.3,204.6 L819.4,203.0 L819.5,201.1 L819.6,199.1 L820.7,197.3 L820.5,195.3 L820.8,193.3 L820.8,191.6 L821.2,190.0 L821.7,188.4 L822.1,186.8 L822.1,185.0 L822.2,183.2 L821.5,181.5 L822.1,180.0 L823.4,178.9 L825.0,178.3 M700.0,228.9 L701.6,228.4 L702.4,226.6 L703.9,226.0 L705.3,224.4 L706.9,223.3 L708.8,222.5 L710.4,221.2 L712.4,220.3 L713.7,218.6 L715.5,217.7 L716.7,216.2 L718.7,215.9 L720.7,215.7 L722.5,214.7 L724.5,215.7 L726.2,216.0 L727.8,215.2 L729.4,215.2 L731.3,214.6 L733.4,215.2 L735.3,214.7 L737.3,214.2 L739.1,213.4 L741.2,213.7 L743.1,213.2 L745.1,212.9 L747.0,212.8 L749.0,212.7 L751.0,214.7 L752.9,214.5 L754.9,214.7 L756.7,213.4 L758.8,212.7 L760.0,211.8 M700.0,234.3 L702.0,233.7 L703.9,234.0 L705.9,234.3 L707.5,233.8 L709.3,234.2 L710.8,233.3 L711.8,230.4 L713.7,229.4 L714.7,232.4 L716.2,231.3 L718.2,231.6 L719.6,230.4 L721.5,229.6 L723.5,229.2 L725.5,228.9 L727.5,229.1 L729.4,228.4 L731.5,227.8 L733.3,226.5 L735.3,225.7 L737.3,225.0 L739.2,224.3 L741.2,224.5 L743.1,225.2 L745.1,226.0 L747.1,225.8 L749.0,226.0 L751.0,226.5 L752.0,228.4 L749.0,229.4 L748.0,231.4 L747.1,234.3 L747.6,236.5 L749.0,238.2 L750.5,238.9 L751.7,240.1 L752.9,241.2 L755.9,241.2 L757.7,240.0 L758.8,238.2 L760.0,237.3 M712.7,243.1 L714.7,241.2 L715.9,239.7 L717.6,239.2 L718.6,236.3 L719.6,233.8 L721.1,234.5 L722.5,235.3 L725.5,234.3 L727.6,233.7 L729.4,232.4 L731.5,232.2 L733.3,231.4 L735.2,230.3 L737.3,230.4 L740.2,231.4 L742.2,233.3 L742.7,235.3 L742.2,237.3 L741.0,238.7 L739.2,239.2 L737.8,240.2 L737.5,242.0 L736.3,243.1 L734.3,242.2 L733.0,240.9 L731.4,240.2 L728.4,240.2 L726.7,240.8 L725.5,242.2 L724.3,243.6 L723.1,245.0 L721.6,246.1 L720.7,247.6 L720.8,249.3 L720.6,251.0 L718.6,250.7 L716.7,250.0 L714.7,248.0 L713.7,245.1 L712.7,243.1 M743.1,229.4 L744.8,228.6 L746.1,227.5 L747.7,228.2 L749.0,229.4 L747.7,230.6 L746.1,231.4 L744.3,230.9 L743.1,229.4" stroke="#000" stroke-width="1.9" fill="none" stroke-linejoin="round" stroke-linecap="round" clip-path="url(#bold1_3)"/>
<ellipse cx="572.0" cy="164.2" rx="2.2" ry="2.0" transform="rotate(0 572.0 164.2)" fill="#000"/>
<ellipse cx="616.7" cy="116.8" rx="1.6" ry="1.6" transform="rotate(0 616.7 116.8)" fill="#000"/>
<ellipse cx="641.8" cy="111.5" rx="1.9" ry="1.6" transform="rotate(0 641.8 111.5)" fill="#000"/>
<ellipse cx="667.9" cy="108.4" rx="1.6" ry="2.0" transform="rotate(30 667.9 108.4)" fill="#000"/>
<ellipse cx="825.6" cy="91.7" rx="1.5" ry="1.5" transform="rotate(0 825.6 91.7)" fill="#000"/>
<ellipse cx="803.2" cy="130.4" rx="1.7" ry="1.4" transform="rotate(30 803.2 130.4)" fill="#000"/>
<ellipse cx="896.3" cy="109.8" rx="2.2" ry="1.6" transform="rotate(-20 896.3 109.8)" fill="#000"/>
<ellipse cx="678.3" cy="237.5" rx="1.6" ry="1.5" transform="rotate(0 678.3 237.5)" fill="#000"/>
<ellipse cx="724.0" cy="206.1" rx="2.0" ry="2.0" transform="rotate(0 724.0 206.1)" fill="#000"/>
<ellipse cx="564.3" cy="267.7" rx="2.0" ry="1.5" transform="rotate(0 564.3 267.7)" fill="#000"/>
<ellipse cx="674.8" cy="307.0" rx="3.6" ry="1.6" transform="rotate(-30 674.8 307.0)" fill="#000"/>
<ellipse cx="668.9" cy="314.3" rx="1.6" ry="1.6" transform="rotate(0 668.9 314.3)" fill="#000"/>
<ellipse cx="656.7" cy="331.0" rx="5.0" ry="1.9" transform="rotate(-50 656.7 331.0)" fill="#000"/>
<ellipse cx="623.0" cy="352.4" rx="1.8" ry="1.4" transform="rotate(30 623.0 352.4)" fill="#000"/>
<ellipse cx="602.9" cy="358.2" rx="2.2" ry="1.6" transform="rotate(0 602.9 358.2)" fill="#000"/>
<ellipse cx="607.4" cy="357.1" rx="2.0" ry="1.6" transform="rotate(-20 607.4 357.1)" fill="#000"/>
<ellipse cx="609.3" cy="355.1" rx="1.5" ry="1.2" transform="rotate(0 609.3 355.1)" fill="#000"/>
<ellipse cx="622.6" cy="185.4" rx="1.8" ry="1.2" transform="rotate(20 622.6 185.4)" fill="#000"/>
<ellipse cx="636.3" cy="197.5" rx="1.6" ry="1.4" transform="rotate(0 636.3 197.5)" fill="#000"/>
<ellipse cx="639.7" cy="204.3" rx="1.2" ry="1.0" transform="rotate(0 639.7 204.3)" fill="#000"/>
<ellipse cx="637.5" cy="213.5" rx="1.2" ry="1.0" transform="rotate(0 637.5 213.5)" fill="#000"/>
<ellipse cx="635.7" cy="221.5" rx="1.4" ry="1.2" transform="rotate(0 635.7 221.5)" fill="#000"/>
<ellipse cx="634.6" cy="228.3" rx="1.6" ry="1.3" transform="rotate(0 634.6 228.3)" fill="#000"/>
<ellipse cx="646.6" cy="226.6" rx="1.6" ry="1.1" transform="rotate(-20 646.6 226.6)" fill="#000"/>
<ellipse cx="653.5" cy="223.8" rx="1.5" ry="1.1" transform="rotate(-20 653.5 223.8)" fill="#000"/>
<ellipse cx="663.8" cy="223.8" rx="1.6" ry="1.3" transform="rotate(0 663.8 223.8)" fill="#000"/>
<ellipse cx="623.7" cy="175.1" rx="1.5" ry="1.0" transform="rotate(0 623.7 175.1)" fill="#000"/>
<ellipse cx="640.9" cy="188.3" rx="1.2" ry="1.0" transform="rotate(0 640.9 188.3)" fill="#000"/>
<ellipse cx="642.0" cy="197.5" rx="1.3" ry="1.0" transform="rotate(0 642.0 197.5)" fill="#000"/>
<ellipse cx="580.0" cy="292.0" rx="1.6" ry="1.2" transform="rotate(0 580.0 292.0)" fill="#000"/>
<ellipse cx="575.0" cy="305.0" rx="1.4" ry="1.2" transform="rotate(0 575.0 305.0)" fill="#000"/>
<ellipse cx="572.0" cy="318.0" rx="1.4" ry="1.1" transform="rotate(0 572.0 318.0)" fill="#000"/>
<rect x="810.5" y="271.5" width="104.5" height="103.5" fill="#fff"/>
<path d="M810.5,375.0 L915.0,271.5" stroke="#000" stroke-width="1.1"/>
<path d="M824.9,336.4h4.6M827.2,334.1v4.6M830.3,337.2h4.6M832.6,334.9v4.6M834.3,341.1h4.6M836.6,338.8v4.6M837.2,341.1h4.6M839.5,338.8v4.6M816.3,343.3h4.6M818.6,341.0v4.6M820.2,344.0h4.6M822.5,341.7v4.6M812.0,345.8h4.6M814.3,343.5v4.6M828.5,344.7h4.6M830.8,342.4v4.6M830.7,347.9h4.6M833.0,345.6v4.6M825.6,347.6h4.6M827.9,345.3v4.6M833.9,346.5h4.6M836.2,344.2v4.6M817.0,348.7h4.6M819.3,346.4v4.6M821.0,348.7h4.6M823.3,346.4v4.6M812.3,349.0h4.6M814.6,346.7v4.6M818.1,350.5h4.6M820.4,348.2v4.6M820.2,350.5h4.6M822.5,348.2v4.6M824.6,349.4h4.6M826.9,347.1v4.6M827.4,350.1h4.6M829.7,347.8v4.6M835.4,350.5h4.6M837.7,348.2v4.6M817.7,354.1h4.6M820.0,351.8v4.6M820.6,354.4h4.6M822.9,352.1v4.6M821.0,356.2h4.6M823.3,353.9v4.6M811.3,356.2h4.6M813.6,353.9v4.6M813.4,355.5h4.6M815.7,353.2v4.6M815.2,356.9h4.6M817.5,354.6v4.6M808.4,358.4h4.6M810.7,356.1v4.6M812.3,359.1h4.6M814.6,356.8v4.6M814.9,359.5h4.6M817.2,357.2v4.6M828.2,358.4h4.6M830.5,356.1v4.6M833.9,357.3h4.6M836.2,355.0v4.6M840.4,356.2h4.6M842.7,353.9v4.6M840.8,362.3h4.6M843.1,360.0v4.6M810.9,362.3h4.6M813.2,360.0v4.6M813.8,363.8h4.6M816.1,361.5v4.6M818.8,363.4h4.6M821.1,361.1v4.6M820.2,365.9h4.6M822.5,363.6v4.6M812.3,366.7h4.6M814.6,364.4v4.6M826.0,366.3h4.6M828.3,364.0v4.6M829.2,365.2h4.6M831.5,362.9v4.6M834.3,368.1h4.6M836.6,365.8v4.6M815.2,368.8h4.6M817.5,366.5v4.6M809.1,368.8h4.6M811.4,366.5v4.6M810.9,371.0h4.6M813.2,368.7v4.6M813.8,372.4h4.6M816.1,370.1v4.6M831.0,370.6h4.6M833.3,368.3v4.6M830.3,372.4h4.6M832.6,370.1v4.6M821.7,372.4h4.6M824.0,370.1v4.6M818.8,373.8h4.6M821.1,371.5v4.6M810.2,373.8h4.6M812.5,371.5v4.6M812.3,374.6h4.6M814.6,372.3v4.6M829.2,373.8h4.6M831.5,371.5v4.6M823.1,351.2h4.6M825.4,348.9v4.6M818.1,352.3h4.6M820.4,350.0v4.6M809.8,365.2h4.6M812.1,362.9v4.6M816.6,365.9h4.6M818.9,363.6v4.6M814.5,374.2h4.6M816.8,371.9v4.6M830.2,320.3h4.6M832.5,318.0v4.6M826.2,327.7h4.6M828.5,325.4v4.6M826.2,329.5h4.6M828.5,327.2v4.6M836.1,328.3h4.6M838.4,326.0v4.6M839.1,332.3h4.6M841.4,330.0v4.6M847.3,346.4h4.6M849.6,344.1v4.6M857.4,350.3h4.6M859.7,348.0v4.6M845.0,367.2h4.6M847.3,364.9v4.6M845.0,372.9h4.6M847.3,370.6v4.6M810.4,370.0h4.6M812.7,367.7v4.6M811.6,369.5h4.6M813.9,367.2v4.6M814.0,374.4h4.6M816.3,372.1v4.6M808.3,367.4h4.6M810.6,365.1v4.6M810.6,372.9h4.6M812.9,370.6v4.6M817.4,370.7h4.6M819.7,368.4v4.6M815.9,370.7h4.6M818.2,368.4v4.6M814.1,373.6h4.6M816.4,371.3v4.6M814.0,367.1h4.6M816.3,364.8v4.6M813.0,368.2h4.6M815.3,365.9v4.6M814.4,374.4h4.6M816.7,372.1v4.6M815.2,369.6h4.6M817.5,367.3v4.6M811.0,374.7h4.6M813.3,372.4v4.6M816.2,370.7h4.6M818.5,368.4v4.6M820.2,372.8h4.6M822.5,370.5v4.6M820.1,372.7h4.6M822.4,370.4v4.6M814.8,373.0h4.6M817.1,370.7v4.6M815.6,372.7h4.6M817.9,370.4v4.6M822.9,374.8h4.6M825.2,372.5v4.6M810.5,374.5h4.6M812.8,372.2v4.6M824.3,373.9h4.6M826.6,371.6v4.6" stroke="#000" stroke-width="0.9" fill="none"/>
<rect x="810.5" y="271.5" width="104.5" height="103.5" fill="none" stroke="#000" stroke-width="1"/>
<path d="M810.5,375.0 v3.2 M810.5,375.0 h-3.2 M814.7,375.0 v1.8 M810.5,370.9 h-1.8 M818.9,375.0 v1.8 M810.5,366.7 h-1.8 M823.0,375.0 v1.8 M810.5,362.6 h-1.8 M827.2,375.0 v1.8 M810.5,358.4 h-1.8 M831.4,375.0 v3.2 M810.5,354.3 h-3.2 M835.6,375.0 v1.8 M810.5,350.2 h-1.8 M839.8,375.0 v1.8 M810.5,346.0 h-1.8 M843.9,375.0 v1.8 M810.5,341.9 h-1.8 M848.1,375.0 v1.8 M810.5,337.7 h-1.8 M852.3,375.0 v3.2 M810.5,333.6 h-3.2 M856.5,375.0 v1.8 M810.5,329.5 h-1.8 M860.7,375.0 v1.8 M810.5,325.3 h-1.8 M864.8,375.0 v1.8 M810.5,321.2 h-1.8 M869.0,375.0 v1.8 M810.5,317.0 h-1.8 M873.2,375.0 v3.2 M810.5,312.9 h-3.2 M877.4,375.0 v1.8 M810.5,308.8 h-1.8 M881.6,375.0 v1.8 M810.5,304.6 h-1.8 M885.7,375.0 v1.8 M810.5,300.5 h-1.8 M889.9,375.0 v1.8 M810.5,296.3 h-1.8 M894.1,375.0 v3.2 M810.5,292.2 h-3.2 M898.3,375.0 v1.8 M810.5,288.1 h-1.8 M902.5,375.0 v1.8 M810.5,283.9 h-1.8 M906.6,375.0 v1.8 M810.5,279.8 h-1.8 M910.8,375.0 v1.8 M810.5,275.6 h-1.8 M915.0,375.0 v3.2 M810.5,271.5 h-3.2" stroke="#000" stroke-width="0.8" fill="none"/>
<text x="810.5" y="388.6" font-size="8.3" text-anchor="middle" textLength="4.4" lengthAdjust="spacingAndGlyphs">0</text>
<text x="804.5" y="378.0" font-size="8.3" text-anchor="end" textLength="4.4" lengthAdjust="spacingAndGlyphs">0</text>
<text x="831.4" y="388.6" font-size="8.3" text-anchor="middle" textLength="4.4" lengthAdjust="spacingAndGlyphs">5</text>
<text x="804.5" y="357.3" font-size="8.3" text-anchor="end" textLength="4.4" lengthAdjust="spacingAndGlyphs">5</text>
<text x="852.3" y="388.6" font-size="8.3" text-anchor="middle" textLength="8.8" lengthAdjust="spacingAndGlyphs">10</text>
<text x="804.5" y="336.6" font-size="8.3" text-anchor="end" textLength="8.8" lengthAdjust="spacingAndGlyphs">10</text>
<text x="873.2" y="388.6" font-size="8.3" text-anchor="middle" textLength="8.8" lengthAdjust="spacingAndGlyphs">15</text>
<text x="804.5" y="315.9" font-size="8.3" text-anchor="end" textLength="8.8" lengthAdjust="spacingAndGlyphs">15</text>
<text x="894.1" y="388.6" font-size="8.3" text-anchor="middle" textLength="8.8" lengthAdjust="spacingAndGlyphs">20</text>
<text x="804.5" y="295.2" font-size="8.3" text-anchor="end" textLength="8.8" lengthAdjust="spacingAndGlyphs">20</text>
<text x="915.0" y="388.6" font-size="8.3" text-anchor="middle" textLength="8.8" lengthAdjust="spacingAndGlyphs">25</text>
<text x="804.5" y="274.5" font-size="8.3" text-anchor="end" textLength="8.8" lengthAdjust="spacingAndGlyphs">25</text>
<text x="861.8" y="399.0" font-size="9.8" text-anchor="middle" textLength="48.0" lengthAdjust="spacingAndGlyphs">ANALYSIS</text>
<g transform="translate(790.8,323.0) rotate(-90)">
<text x="0.0" y="0.0" font-size="10.2" text-anchor="middle" textLength="84.0" lengthAdjust="spacingAndGlyphs">GSMAP_NRT_1HR</text>
</g>
<text x="561.5" y="407.0" font-size="10.5" text-anchor="start" textLength="102.5" lengthAdjust="spacingAndGlyphs">Provided by JWA/JMA</text>
<rect x="555.5" y="31.5" width="383.0" height="383.0" fill="none" stroke="#000" stroke-width="1.2"/>
<text x="550.9" y="97.0" font-size="8.9" text-anchor="end" textLength="18.7" lengthAdjust="spacingAndGlyphs">45°N</text>
<text x="550.9" y="161.0" font-size="8.9" text-anchor="end" textLength="18.7" lengthAdjust="spacingAndGlyphs">40°N</text>
<text x="550.9" y="225.0" font-size="8.9" text-anchor="end" textLength="18.7" lengthAdjust="spacingAndGlyphs">35°N</text>
<text x="550.9" y="288.5" font-size="8.9" text-anchor="end" textLength="18.7" lengthAdjust="spacingAndGlyphs">30°N</text>
<text x="550.9" y="352.0" font-size="8.9" text-anchor="end" textLength="18.7" lengthAdjust="spacingAndGlyphs">25°N</text>
<text x="618.9" y="424.8" font-size="8.9" text-anchor="middle" textLength="22.2" lengthAdjust="spacingAndGlyphs">125°E</text>
<text x="682.9" y="424.8" font-size="8.9" text-anchor="middle" textLength="22.2" lengthAdjust="spacingAndGlyphs">130°E</text>
<text x="746.9" y="424.8" font-size="8.9" text-anchor="middle" textLength="22.2" lengthAdjust="spacingAndGlyphs">135°E</text>
<text x="810.9" y="424.8" font-size="8.9" text-anchor="middle" textLength="22.2" lengthAdjust="spacingAndGlyphs">140°E</text>
<text x="874.9" y="424.8" font-size="8.9" text-anchor="middle" textLength="22.2" lengthAdjust="spacingAndGlyphs">145°E</text>
</g>
<rect x="972.5" y="377.08" width="21.0" height="36.72" fill="#FFEABE"/>
<rect x="972.5" y="340.66" width="21.0" height="36.72" fill="#E1FFD2"/>
<rect x="972.5" y="304.24" width="21.0" height="36.72" fill="#98FF98"/>
<rect x="972.5" y="267.82" width="21.0" height="36.72" fill="#64FFFF"/>
<rect x="972.5" y="231.40" width="21.0" height="36.72" fill="#00C8FF"/>
<rect x="972.5" y="194.98" width="21.0" height="36.72" fill="#0064FF"/>
<rect x="972.5" y="158.56" width="21.0" height="36.72" fill="#8C64FF"/>
<rect x="972.5" y="122.14" width="21.0" height="36.72" fill="#E064FF"/>
<rect x="972.5" y="85.72" width="21.0" height="36.72" fill="#FF00FF"/>
<rect x="972.5" y="49.30" width="21.0" height="36.72" fill="#D49E48"/>
<path d="M972.5,49.3 L983.0,30.5 L993.5,49.3 Z" fill="#000"/>
<path d="M972.5,413.5 V49.3 L983.0,30.5 L993.5,49.3 V413.5 Z" fill="none" stroke="#000" stroke-width="1"/>
<text x="1001.8" y="417.9" font-size="12.1" text-anchor="start" textLength="6.4" lengthAdjust="spacingAndGlyphs">0</text>
<text x="1001.8" y="381.5" font-size="12.1" text-anchor="start" textLength="23.5" lengthAdjust="spacingAndGlyphs">0.01</text>
<text x="1001.8" y="345.1" font-size="12.1" text-anchor="start" textLength="17.0" lengthAdjust="spacingAndGlyphs">0.5</text>
<text x="1001.8" y="308.6" font-size="12.1" text-anchor="start" textLength="6.4" lengthAdjust="spacingAndGlyphs">1</text>
<text x="1001.8" y="272.2" font-size="12.1" text-anchor="start" textLength="6.4" lengthAdjust="spacingAndGlyphs">2</text>
<text x="1001.8" y="235.8" font-size="12.1" text-anchor="start" textLength="6.4" lengthAdjust="spacingAndGlyphs">3</text>
<text x="1001.8" y="199.4" font-size="12.1" text-anchor="start" textLength="6.4" lengthAdjust="spacingAndGlyphs">4</text>
<text x="1001.8" y="163.0" font-size="12.1" text-anchor="start" textLength="6.4" lengthAdjust="spacingAndGlyphs">5</text>
<text x="1001.8" y="126.5" font-size="12.1" text-anchor="start" textLength="12.4" lengthAdjust="spacingAndGlyphs">10</text>
<text x="1001.8" y="90.1" font-size="12.1" text-anchor="start" textLength="12.4" lengthAdjust="spacingAndGlyphs">25</text>
<text x="1001.8" y="53.7" font-size="12.1" text-anchor="start" textLength="12.4" lengthAdjust="spacingAndGlyphs">50</text>
<path d="M993.5,413.5 h4 M993.5,377.1 h4 M993.5,340.7 h4 M993.5,304.2 h4 M993.5,267.8 h4 M993.5,231.4 h4 M993.5,195.0 h4 M993.5,158.6 h4 M993.5,122.1 h4 M993.5,85.7 h4 M993.5,49.3 h4" stroke="#000" stroke-width="1" fill="none"/>
<text x="140.3" y="447.0" font-size="10.6" text-anchor="middle" textLength="142.5" lengthAdjust="spacingAndGlyphs">Hourly fraction by occurence</text>
<text x="47.9" y="465.8" font-size="10.6" text-anchor="start" textLength="14.2" lengthAdjust="spacingAndGlyphs">Est</text>
<text x="48.3" y="492.7" font-size="10.6" text-anchor="start" textLength="17.7" lengthAdjust="spacingAndGlyphs">Obs</text>
<text x="58.5" y="509.4" font-size="10.6" text-anchor="start" textLength="14.4" lengthAdjust="spacingAndGlyphs">0%</text>
<text x="101.9" y="509.4" font-size="10.6" text-anchor="start" textLength="67.0" lengthAdjust="spacingAndGlyphs">Areal fraction</text>
<text x="194.8" y="509.4" font-size="10.6" text-anchor="start" textLength="27.3" lengthAdjust="spacingAndGlyphs">100%</text>
<rect x="74.40" y="452.5" width="128.10" height="17.80000000000001" fill="#FFEABE" stroke="#222" stroke-width="0.8"/>
<rect x="202.50" y="452.5" width="1.60" height="17.80000000000001" fill="#2d5552" stroke="#222" stroke-width="0.8"/>
<rect x="204.10" y="452.5" width="3.60" height="17.80000000000001" fill="#2e2060" stroke="#222" stroke-width="0.8"/>
<rect x="74.40" y="479.5" width="121.90" height="17.899999999999977" fill="#FFEABE" stroke="#222" stroke-width="0.8"/>
<rect x="196.30" y="479.5" width="4.60" height="17.899999999999977" fill="#E1FFD2" stroke="#222" stroke-width="0.8"/>
<rect x="200.90" y="479.5" width="2.70" height="17.899999999999977" fill="#2d5552" stroke="#222" stroke-width="0.8"/>
<rect x="203.60" y="479.5" width="1.50" height="17.899999999999977" fill="#2e2060" stroke="#222" stroke-width="0.8"/>
<rect x="205.10" y="479.5" width="2.60" height="17.899999999999977" fill="#9050c8" stroke="#222" stroke-width="0.8"/>
<path d="M202.5,470.3 L196.3,479.5 M203.3,470.3 L200.9,479.5 M204.1,470.3 L201.8,479.5 M205.0,470.3 L202.7,479.5 M205.8,470.3 L203.6,479.5 M206.6,470.3 L205.1,479.5 M207.1,470.3 L206.2,479.5" stroke="#222" stroke-width="0.8" fill="none"/>
<text x="139.9" y="528.0" font-size="10.6" text-anchor="middle" textLength="134.8" lengthAdjust="spacingAndGlyphs">Hourly fraction of total rain</text>
<text x="47.9" y="547.0" font-size="10.6" text-anchor="start" textLength="14.2" lengthAdjust="spacingAndGlyphs">Est</text>
<text x="48.3" y="574.0" font-size="10.6" text-anchor="start" textLength="17.7" lengthAdjust="spacingAndGlyphs">Obs</text>
<text x="140.5" y="589.7" font-size="10.6" text-anchor="middle" textLength="163.9" lengthAdjust="spacingAndGlyphs">Rainfall accumulation by amount</text>
<rect x="74.40" y="533.5" width="1.20" height="17.799999999999955" fill="#333" stroke="#222" stroke-width="0.8"/>
<rect x="75.60" y="533.5" width="0.70" height="17.799999999999955" fill="#E1FFD2" stroke="#222" stroke-width="0.8"/>
<rect x="76.30" y="533.5" width="2.20" height="17.799999999999955" fill="#98FF98" stroke="#222" stroke-width="0.8"/>
<rect x="78.50" y="533.5" width="3.00" height="17.799999999999955" fill="#64FFFF" stroke="#222" stroke-width="0.8"/>
<rect x="81.50" y="533.5" width="10.80" height="17.799999999999955" fill="#00C8FF" stroke="#222" stroke-width="0.8"/>
<rect x="92.30" y="533.5" width="8.40" height="17.799999999999955" fill="#0064FF" stroke="#222" stroke-width="0.8"/>
<rect x="100.70" y="533.5" width="8.60" height="17.799999999999955" fill="#8C64FF" stroke="#222" stroke-width="0.8"/>
<rect x="109.30" y="533.5" width="68.00" height="17.799999999999955" fill="#E064FF" stroke="#222" stroke-width="0.8"/>
<rect x="177.30" y="533.5" width="16.30" height="17.799999999999955" fill="#FF00FF" stroke="#222" stroke-width="0.8"/>
<rect x="74.40" y="560.2" width="1.20" height="18.5" fill="#333" stroke="#222" stroke-width="0.8"/>
<rect x="75.60" y="560.2" width="5.90" height="18.5" fill="#E1FFD2" stroke="#222" stroke-width="0.8"/>
<rect x="81.50" y="560.2" width="5.20" height="18.5" fill="#98FF98" stroke="#222" stroke-width="0.8"/>
<rect x="86.70" y="560.2" width="6.90" height="18.5" fill="#64FFFF" stroke="#222" stroke-width="0.8"/>
<rect x="93.60" y="560.2" width="11.60" height="18.5" fill="#00C8FF" stroke="#222" stroke-width="0.8"/>
<rect x="105.20" y="560.2" width="13.30" height="18.5" fill="#0064FF" stroke="#222" stroke-width="0.8"/>
<rect x="118.50" y="560.2" width="21.10" height="18.5" fill="#8C64FF" stroke="#222" stroke-width="0.8"/>
<rect x="139.60" y="560.2" width="54.90" height="18.5" fill="#E064FF" stroke="#222" stroke-width="0.8"/>
<rect x="194.50" y="560.2" width="12.90" height="18.5" fill="#FF00FF" stroke="#222" stroke-width="0.8"/>
<path d="M75.6,551.3 L75.6,560.2 M76.3,551.3 L81.5,560.2 M78.5,551.3 L86.7,560.2 M81.5,551.3 L93.6,560.2 M92.3,551.3 L105.2,560.2 M100.7,551.3 L118.5,560.2 M109.3,551.3 L139.6,560.2 M177.3,551.3 L194.5,560.2 M193.6,551.3 L207.4,560.2" stroke="#222" stroke-width="0.8" fill="none"/>
<rect x="277.5" y="478.5" width="124" height="95" fill="none" stroke="#000" stroke-width="1"/>
<path d="M339.5,478.5 V573.5 M277.5,526.5 H401.5" stroke="#000" stroke-width="1"/>
<text x="338.7" y="455.3" font-size="10.6" text-anchor="middle" textLength="85.6" lengthAdjust="spacingAndGlyphs">GSMAP_NRT_1HR</text>
<text x="308.2" y="470.0" font-size="10.6" text-anchor="middle" textLength="29.7" lengthAdjust="spacingAndGlyphs">&lt;0.01</text>
<text x="369.9" y="470.0" font-size="10.6" text-anchor="middle" textLength="27.9" lengthAdjust="spacingAndGlyphs">≥0.01</text>
<text x="308.2" y="506.4" font-size="10.6" text-anchor="middle" textLength="23.6" lengthAdjust="spacingAndGlyphs">2941</text>
<text x="370.0" y="506.4" font-size="10.6" text-anchor="middle" textLength="11.4" lengthAdjust="spacingAndGlyphs">15</text>
<text x="307.9" y="553.3" font-size="10.6" text-anchor="middle" textLength="11.4" lengthAdjust="spacingAndGlyphs">36</text>
<text x="370.7" y="553.3" font-size="10.6" text-anchor="middle" textLength="11.4" lengthAdjust="spacingAndGlyphs">65</text>
<text x="274.8" y="506.4" font-size="10.6" text-anchor="end" textLength="29.1" lengthAdjust="spacingAndGlyphs">&lt;0.01</text>
<text x="274.3" y="553.3" font-size="10.6" text-anchor="end" textLength="28.6" lengthAdjust="spacingAndGlyphs">≥0.01</text>
<g transform="translate(245.5,520.5) rotate(-90)">
<text x="0.0" y="0.0" font-size="10.6" text-anchor="middle" textLength="47.0" lengthAdjust="spacingAndGlyphs">ANALYSIS</text>
</g>
<text x="460.4" y="454.3" font-size="10.6" text-anchor="start" textLength="393.5" lengthAdjust="spacingAndGlyphs" xml:space="preserve">Validation statistics for 20260405 23  n=3057 Valid. grid=0.25˚ Units=mm/hr.</text>
<path d="M457.0,457.5 H996.8" stroke="#000" stroke-width="1" stroke-dasharray="3.4,1.9"/>
<text x="609.1" y="475.0" font-size="10.6" text-anchor="start" textLength="46.8" lengthAdjust="spacingAndGlyphs">ANALYSIS</text>
<text x="670.7" y="475.0" font-size="10.6" text-anchor="start" textLength="86.0" lengthAdjust="spacingAndGlyphs">GSMAP_NRT_1HR</text>
<path d="M457.0,480.5 H758.1" stroke="#000" stroke-width="1" stroke-dasharray="3.4,1.9"/>
<text x="460.4" y="498.7" font-size="10.6" text-anchor="start" textLength="127.4" lengthAdjust="spacingAndGlyphs">Num of gridpoints raining</text>
<text x="629.9" y="498.7" font-size="10.6" text-anchor="start" textLength="18.0" lengthAdjust="spacingAndGlyphs">101</text>
<text x="716.7" y="498.7" font-size="10.6" text-anchor="start" textLength="12.4" lengthAdjust="spacingAndGlyphs">80</text>
<text x="460.4" y="518.6" font-size="10.6" text-anchor="start" textLength="63.0" lengthAdjust="spacingAndGlyphs">Average rain</text>
<text x="633.1" y="518.6" font-size="10.6" text-anchor="start" textLength="15.4" lengthAdjust="spacingAndGlyphs">0.2</text>
<text x="713.7" y="518.6" font-size="10.6" text-anchor="start" textLength="15.4" lengthAdjust="spacingAndGlyphs">0.1</text>
<text x="460.4" y="538.7" font-size="10.6" text-anchor="start" textLength="78.6" lengthAdjust="spacingAndGlyphs">Conditional rain</text>
<text x="633.1" y="538.7" font-size="10.6" text-anchor="start" textLength="15.4" lengthAdjust="spacingAndGlyphs">4.7</text>
<text x="713.7" y="538.7" font-size="10.6" text-anchor="start" textLength="15.4" lengthAdjust="spacingAndGlyphs">5.3</text>
<text x="460.4" y="578.1" font-size="10.6" text-anchor="start" textLength="70.6" lengthAdjust="spacingAndGlyphs">Maximum rain</text>
<text x="626.9" y="578.1" font-size="10.6" text-anchor="start" textLength="21.0" lengthAdjust="spacingAndGlyphs">12.1</text>
<text x="707.2" y="578.1" font-size="10.6" text-anchor="start" textLength="21.9" lengthAdjust="spacingAndGlyphs">13.0</text>
<text x="461.3" y="558.9" font-size="10.6" textLength="133.3" lengthAdjust="spacingAndGlyphs">Rain volume (mm km<tspan font-size="7" dy="-4">2</tspan><tspan dy="4">10</tspan><tspan font-size="7" dy="-4">6</tspan><tspan dy="4">)</tspan></text>
<text x="633.1" y="558.9" font-size="10.6" text-anchor="start" textLength="15.4" lengthAdjust="spacingAndGlyphs">0.3</text>
<text x="714.5" y="558.9" font-size="10.6" text-anchor="start" textLength="15.4" lengthAdjust="spacingAndGlyphs">0.3</text>
<text x="784.3" y="472.0" font-size="10.6" text-anchor="start" textLength="114.6" lengthAdjust="spacingAndGlyphs" xml:space="preserve">Mean abs error =    0.1</text>
<text x="784.3" y="488.9" font-size="10.6" text-anchor="start" textLength="88.4" lengthAdjust="spacingAndGlyphs" xml:space="preserve">RMS error =    0.8</text>
<text x="784.3" y="505.7" font-size="10.6" text-anchor="start" textLength="128.9" lengthAdjust="spacingAndGlyphs" xml:space="preserve">Correlation coeff =  0.619</text>
<text x="784.3" y="522.6" font-size="10.6" text-anchor="start" textLength="121.9" lengthAdjust="spacingAndGlyphs" xml:space="preserve">Frequency bias =  0.792</text>
<text x="784.3" y="539.6" font-size="10.6" text-anchor="start" textLength="161.8" lengthAdjust="spacingAndGlyphs" xml:space="preserve">Probability of detection =  0.644</text>
<text x="784.3" y="556.4" font-size="10.6" text-anchor="start" textLength="130.0" lengthAdjust="spacingAndGlyphs" xml:space="preserve">False alarm ratio =  0.188</text>
<text x="784.3" y="573.6" font-size="10.6" text-anchor="start" textLength="169.9" lengthAdjust="spacingAndGlyphs" xml:space="preserve">Hanssen &amp; Kuipers score =  0.638</text>
<text x="784.3" y="590.6" font-size="10.6" text-anchor="start" textLength="156.4" lengthAdjust="spacingAndGlyphs" xml:space="preserve">Equitable threat score =  0.550</text>
</svg>
</body></html>
